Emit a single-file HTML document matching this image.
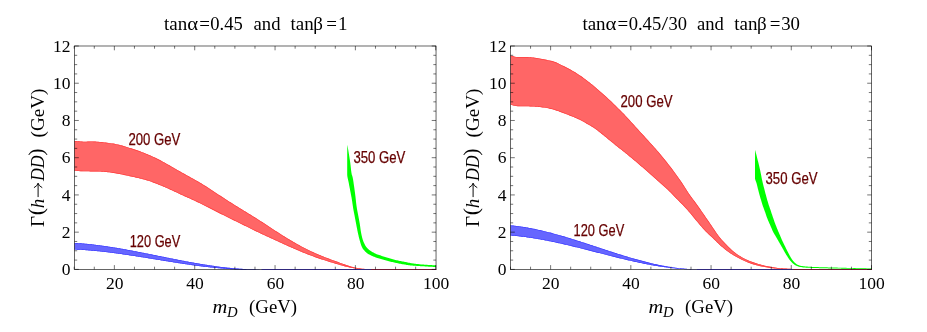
<!DOCTYPE html>
<html><head><meta charset="utf-8"><title>plot</title>
<style>
html,body{margin:0;padding:0;background:#fff;}
body{width:927px;height:332px;overflow:hidden;}
svg{display:block;will-change:transform;}
text{font-family:"Liberation Serif",serif;fill:#000;}
.tk{font-size:17.6px;}
.tt{font-size:19px;}
.it{font-size:19px;font-style:italic;}
.pp{font-size:22px;}
.sl{font-family:"Liberation Sans",sans-serif;font-size:15.8px;fill:#660000;stroke:#660000;stroke-width:0.25px;}
</style></head><body>
<svg width="927" height="332" viewBox="0 0 927 332">
<rect width="927" height="332" fill="#fff"/>
<clipPath id="c1"><path d="M74.40,242.90 L75.36,242.96 L76.32,243.02 L77.27,243.08 L78.23,243.14 L79.19,243.21 L80.15,243.28 L81.10,243.36 L82.06,243.44 L83.02,243.52 L83.98,243.60 L84.94,243.69 L85.89,243.78 L86.85,243.87 L87.81,243.96 L88.77,244.06 L89.72,244.16 L90.68,244.26 L91.64,244.36 L92.60,244.47 L93.56,244.58 L94.51,244.69 L95.47,244.81 L96.43,244.93 L97.39,245.04 L98.34,245.17 L99.30,245.29 L100.26,245.42 L101.22,245.54 L102.18,245.68 L103.13,245.81 L104.09,245.94 L105.05,246.08 L106.01,246.22 L106.96,246.36 L107.92,246.50 L108.88,246.65 L109.84,246.79 L110.80,246.94 L111.75,247.09 L112.71,247.24 L113.67,247.40 L114.63,247.55 L115.58,247.71 L116.54,247.87 L117.50,248.03 L118.46,248.19 L119.42,248.35 L120.37,248.52 L121.33,248.68 L122.29,248.85 L123.25,249.02 L124.21,249.19 L125.16,249.36 L126.12,249.53 L127.08,249.71 L128.04,249.88 L128.99,250.06 L129.95,250.24 L130.91,250.42 L131.87,250.59 L132.83,250.78 L133.78,250.96 L134.74,251.14 L135.70,251.32 L136.66,251.51 L137.61,251.69 L138.57,251.88 L139.53,252.06 L140.49,252.25 L141.45,252.44 L142.40,252.63 L143.36,252.82 L144.32,253.01 L145.28,253.20 L146.23,253.39 L147.19,253.58 L148.15,253.77 L149.11,253.96 L150.07,254.16 L151.02,254.35 L151.98,254.54 L152.94,254.74 L153.90,254.93 L154.85,255.12 L155.81,255.32 L156.77,255.51 L157.73,255.71 L158.69,255.90 L159.64,256.10 L160.60,256.29 L161.56,256.48 L162.52,256.68 L163.47,256.87 L164.43,257.07 L165.39,257.26 L166.35,257.45 L167.31,257.65 L168.26,257.84 L169.22,258.03 L170.18,258.22 L171.14,258.41 L172.09,258.60 L173.05,258.80 L174.01,258.98 L174.97,259.17 L175.93,259.36 L176.88,259.55 L177.84,259.74 L178.80,259.93 L179.76,260.11 L180.71,260.30 L181.67,260.48 L182.63,260.66 L183.59,260.85 L184.55,261.03 L185.50,261.21 L186.46,261.39 L187.42,261.57 L188.38,261.75 L189.33,261.92 L190.29,262.10 L191.25,262.27 L192.21,262.45 L193.17,262.62 L194.12,262.79 L195.08,262.96 L196.04,263.12 L197.00,263.29 L197.95,263.46 L198.91,263.62 L199.87,263.78 L200.83,263.94 L201.79,264.10 L202.74,264.26 L203.70,264.41 L204.66,264.57 L205.62,264.72 L206.57,264.87 L207.53,265.02 L208.49,265.17 L209.45,265.31 L210.41,265.45 L211.36,265.59 L212.32,265.73 L213.28,265.87 L214.24,266.01 L215.19,266.14 L216.15,266.27 L217.11,266.40 L218.07,266.52 L219.03,266.65 L219.98,266.77 L220.94,266.89 L221.90,267.01 L222.86,267.12 L223.82,267.24 L224.77,267.35 L225.73,267.45 L226.69,267.56 L227.65,267.66 L228.60,267.76 L229.56,267.86 L230.52,267.95 L231.48,268.05 L232.44,268.14 L233.39,268.22 L234.35,268.31 L235.31,268.39 L236.27,268.47 L237.22,268.54 L238.18,268.61 L239.14,268.68 L240.10,268.75 L241.06,268.81 L242.01,268.87 L242.97,268.93 L243.93,268.98 L244.89,269.03 L245.84,269.08 L246.80,269.13 L247.76,269.17 L248.72,269.20 L249.68,269.24 L250.63,269.27 L251.59,269.30 L252.55,269.32 L253.51,269.34 L254.46,269.36 L255.42,269.37 L256.38,269.38 L257.34,269.39 L258.30,269.39 L259.25,269.39 L260.21,269.38 L261.17,269.37 L262.13,269.36 L263.08,269.34 L264.04,269.32 L265.00,269.30 L265.00,269.40 L264.04,269.45 L263.08,269.49 L262.13,269.54 L261.17,269.58 L260.21,269.61 L259.25,269.64 L258.30,269.67 L257.34,269.70 L256.38,269.72 L255.42,269.74 L254.46,269.75 L253.51,269.76 L252.55,269.77 L251.59,269.78 L250.63,269.78 L249.68,269.78 L248.72,269.77 L247.76,269.77 L246.80,269.76 L245.84,269.74 L244.89,269.73 L243.93,269.71 L242.97,269.68 L242.01,269.66 L241.06,269.63 L240.10,269.60 L239.14,269.57 L238.18,269.53 L237.22,269.49 L236.27,269.45 L235.31,269.40 L234.35,269.36 L233.39,269.31 L232.44,269.25 L231.48,269.20 L230.52,269.14 L229.56,269.08 L228.60,269.02 L227.65,268.95 L226.69,268.89 L225.73,268.82 L224.77,268.74 L223.82,268.67 L222.86,268.59 L221.90,268.51 L220.94,268.43 L219.98,268.35 L219.03,268.26 L218.07,268.17 L217.11,268.09 L216.15,267.99 L215.19,267.90 L214.24,267.80 L213.28,267.71 L212.32,267.61 L211.36,267.51 L210.41,267.40 L209.45,267.30 L208.49,267.19 L207.53,267.08 L206.57,266.97 L205.62,266.86 L204.66,266.74 L203.70,266.63 L202.74,266.51 L201.79,266.39 L200.83,266.27 L199.87,266.15 L198.91,266.03 L197.95,265.90 L197.00,265.78 L196.04,265.65 L195.08,265.52 L194.12,265.39 L193.17,265.26 L192.21,265.13 L191.25,264.99 L190.29,264.86 L189.33,264.72 L188.38,264.59 L187.42,264.45 L186.46,264.31 L185.50,264.17 L184.55,264.03 L183.59,263.88 L182.63,263.74 L181.67,263.60 L180.71,263.45 L179.76,263.31 L178.80,263.16 L177.84,263.01 L176.88,262.86 L175.93,262.72 L174.97,262.57 L174.01,262.42 L173.05,262.27 L172.09,262.11 L171.14,261.96 L170.18,261.81 L169.22,261.66 L168.26,261.50 L167.31,261.35 L166.35,261.20 L165.39,261.04 L164.43,260.89 L163.47,260.73 L162.52,260.58 L161.56,260.42 L160.60,260.27 L159.64,260.11 L158.69,259.95 L157.73,259.80 L156.77,259.64 L155.81,259.49 L154.85,259.33 L153.90,259.17 L152.94,259.02 L151.98,258.86 L151.02,258.71 L150.07,258.55 L149.11,258.39 L148.15,258.24 L147.19,258.08 L146.23,257.93 L145.28,257.78 L144.32,257.62 L143.36,257.47 L142.40,257.31 L141.45,257.16 L140.49,257.01 L139.53,256.86 L138.57,256.71 L137.61,256.56 L136.66,256.41 L135.70,256.26 L134.74,256.11 L133.78,255.96 L132.83,255.81 L131.87,255.67 L130.91,255.52 L129.95,255.38 L128.99,255.23 L128.04,255.09 L127.08,254.95 L126.12,254.81 L125.16,254.67 L124.21,254.53 L123.25,254.39 L122.29,254.25 L121.33,254.12 L120.37,253.98 L119.42,253.85 L118.46,253.72 L117.50,253.58 L116.54,253.45 L115.58,253.33 L114.63,253.20 L113.67,253.07 L112.71,252.95 L111.75,252.83 L110.80,252.70 L109.84,252.58 L108.88,252.47 L107.92,252.35 L106.96,252.23 L106.01,252.12 L105.05,252.01 L104.09,251.90 L103.13,251.79 L102.18,251.68 L101.22,251.58 L100.26,251.48 L99.30,251.37 L98.34,251.27 L97.39,251.18 L96.43,251.08 L95.47,250.99 L94.51,250.90 L93.56,250.81 L92.60,250.72 L91.64,250.63 L90.68,250.55 L89.72,250.47 L88.77,250.39 L87.81,250.32 L86.85,250.24 L85.89,250.17 L84.94,250.10 L83.98,250.03 L83.02,249.97 L82.06,249.91 L81.10,249.85 L80.15,249.79 L79.19,249.73 L78.23,249.68 L77.27,249.63 L76.32,249.59 L75.36,249.54 L74.40,249.50Z"/></clipPath>
<path d="M74.40,242.90 L75.36,242.96 L76.32,243.02 L77.27,243.08 L78.23,243.14 L79.19,243.21 L80.15,243.28 L81.10,243.36 L82.06,243.44 L83.02,243.52 L83.98,243.60 L84.94,243.69 L85.89,243.78 L86.85,243.87 L87.81,243.96 L88.77,244.06 L89.72,244.16 L90.68,244.26 L91.64,244.36 L92.60,244.47 L93.56,244.58 L94.51,244.69 L95.47,244.81 L96.43,244.93 L97.39,245.04 L98.34,245.17 L99.30,245.29 L100.26,245.42 L101.22,245.54 L102.18,245.68 L103.13,245.81 L104.09,245.94 L105.05,246.08 L106.01,246.22 L106.96,246.36 L107.92,246.50 L108.88,246.65 L109.84,246.79 L110.80,246.94 L111.75,247.09 L112.71,247.24 L113.67,247.40 L114.63,247.55 L115.58,247.71 L116.54,247.87 L117.50,248.03 L118.46,248.19 L119.42,248.35 L120.37,248.52 L121.33,248.68 L122.29,248.85 L123.25,249.02 L124.21,249.19 L125.16,249.36 L126.12,249.53 L127.08,249.71 L128.04,249.88 L128.99,250.06 L129.95,250.24 L130.91,250.42 L131.87,250.59 L132.83,250.78 L133.78,250.96 L134.74,251.14 L135.70,251.32 L136.66,251.51 L137.61,251.69 L138.57,251.88 L139.53,252.06 L140.49,252.25 L141.45,252.44 L142.40,252.63 L143.36,252.82 L144.32,253.01 L145.28,253.20 L146.23,253.39 L147.19,253.58 L148.15,253.77 L149.11,253.96 L150.07,254.16 L151.02,254.35 L151.98,254.54 L152.94,254.74 L153.90,254.93 L154.85,255.12 L155.81,255.32 L156.77,255.51 L157.73,255.71 L158.69,255.90 L159.64,256.10 L160.60,256.29 L161.56,256.48 L162.52,256.68 L163.47,256.87 L164.43,257.07 L165.39,257.26 L166.35,257.45 L167.31,257.65 L168.26,257.84 L169.22,258.03 L170.18,258.22 L171.14,258.41 L172.09,258.60 L173.05,258.80 L174.01,258.98 L174.97,259.17 L175.93,259.36 L176.88,259.55 L177.84,259.74 L178.80,259.93 L179.76,260.11 L180.71,260.30 L181.67,260.48 L182.63,260.66 L183.59,260.85 L184.55,261.03 L185.50,261.21 L186.46,261.39 L187.42,261.57 L188.38,261.75 L189.33,261.92 L190.29,262.10 L191.25,262.27 L192.21,262.45 L193.17,262.62 L194.12,262.79 L195.08,262.96 L196.04,263.12 L197.00,263.29 L197.95,263.46 L198.91,263.62 L199.87,263.78 L200.83,263.94 L201.79,264.10 L202.74,264.26 L203.70,264.41 L204.66,264.57 L205.62,264.72 L206.57,264.87 L207.53,265.02 L208.49,265.17 L209.45,265.31 L210.41,265.45 L211.36,265.59 L212.32,265.73 L213.28,265.87 L214.24,266.01 L215.19,266.14 L216.15,266.27 L217.11,266.40 L218.07,266.52 L219.03,266.65 L219.98,266.77 L220.94,266.89 L221.90,267.01 L222.86,267.12 L223.82,267.24 L224.77,267.35 L225.73,267.45 L226.69,267.56 L227.65,267.66 L228.60,267.76 L229.56,267.86 L230.52,267.95 L231.48,268.05 L232.44,268.14 L233.39,268.22 L234.35,268.31 L235.31,268.39 L236.27,268.47 L237.22,268.54 L238.18,268.61 L239.14,268.68 L240.10,268.75 L241.06,268.81 L242.01,268.87 L242.97,268.93 L243.93,268.98 L244.89,269.03 L245.84,269.08 L246.80,269.13 L247.76,269.17 L248.72,269.20 L249.68,269.24 L250.63,269.27 L251.59,269.30 L252.55,269.32 L253.51,269.34 L254.46,269.36 L255.42,269.37 L256.38,269.38 L257.34,269.39 L258.30,269.39 L259.25,269.39 L260.21,269.38 L261.17,269.37 L262.13,269.36 L263.08,269.34 L264.04,269.32 L265.00,269.30 L265.00,269.40 L264.04,269.45 L263.08,269.49 L262.13,269.54 L261.17,269.58 L260.21,269.61 L259.25,269.64 L258.30,269.67 L257.34,269.70 L256.38,269.72 L255.42,269.74 L254.46,269.75 L253.51,269.76 L252.55,269.77 L251.59,269.78 L250.63,269.78 L249.68,269.78 L248.72,269.77 L247.76,269.77 L246.80,269.76 L245.84,269.74 L244.89,269.73 L243.93,269.71 L242.97,269.68 L242.01,269.66 L241.06,269.63 L240.10,269.60 L239.14,269.57 L238.18,269.53 L237.22,269.49 L236.27,269.45 L235.31,269.40 L234.35,269.36 L233.39,269.31 L232.44,269.25 L231.48,269.20 L230.52,269.14 L229.56,269.08 L228.60,269.02 L227.65,268.95 L226.69,268.89 L225.73,268.82 L224.77,268.74 L223.82,268.67 L222.86,268.59 L221.90,268.51 L220.94,268.43 L219.98,268.35 L219.03,268.26 L218.07,268.17 L217.11,268.09 L216.15,267.99 L215.19,267.90 L214.24,267.80 L213.28,267.71 L212.32,267.61 L211.36,267.51 L210.41,267.40 L209.45,267.30 L208.49,267.19 L207.53,267.08 L206.57,266.97 L205.62,266.86 L204.66,266.74 L203.70,266.63 L202.74,266.51 L201.79,266.39 L200.83,266.27 L199.87,266.15 L198.91,266.03 L197.95,265.90 L197.00,265.78 L196.04,265.65 L195.08,265.52 L194.12,265.39 L193.17,265.26 L192.21,265.13 L191.25,264.99 L190.29,264.86 L189.33,264.72 L188.38,264.59 L187.42,264.45 L186.46,264.31 L185.50,264.17 L184.55,264.03 L183.59,263.88 L182.63,263.74 L181.67,263.60 L180.71,263.45 L179.76,263.31 L178.80,263.16 L177.84,263.01 L176.88,262.86 L175.93,262.72 L174.97,262.57 L174.01,262.42 L173.05,262.27 L172.09,262.11 L171.14,261.96 L170.18,261.81 L169.22,261.66 L168.26,261.50 L167.31,261.35 L166.35,261.20 L165.39,261.04 L164.43,260.89 L163.47,260.73 L162.52,260.58 L161.56,260.42 L160.60,260.27 L159.64,260.11 L158.69,259.95 L157.73,259.80 L156.77,259.64 L155.81,259.49 L154.85,259.33 L153.90,259.17 L152.94,259.02 L151.98,258.86 L151.02,258.71 L150.07,258.55 L149.11,258.39 L148.15,258.24 L147.19,258.08 L146.23,257.93 L145.28,257.78 L144.32,257.62 L143.36,257.47 L142.40,257.31 L141.45,257.16 L140.49,257.01 L139.53,256.86 L138.57,256.71 L137.61,256.56 L136.66,256.41 L135.70,256.26 L134.74,256.11 L133.78,255.96 L132.83,255.81 L131.87,255.67 L130.91,255.52 L129.95,255.38 L128.99,255.23 L128.04,255.09 L127.08,254.95 L126.12,254.81 L125.16,254.67 L124.21,254.53 L123.25,254.39 L122.29,254.25 L121.33,254.12 L120.37,253.98 L119.42,253.85 L118.46,253.72 L117.50,253.58 L116.54,253.45 L115.58,253.33 L114.63,253.20 L113.67,253.07 L112.71,252.95 L111.75,252.83 L110.80,252.70 L109.84,252.58 L108.88,252.47 L107.92,252.35 L106.96,252.23 L106.01,252.12 L105.05,252.01 L104.09,251.90 L103.13,251.79 L102.18,251.68 L101.22,251.58 L100.26,251.48 L99.30,251.37 L98.34,251.27 L97.39,251.18 L96.43,251.08 L95.47,250.99 L94.51,250.90 L93.56,250.81 L92.60,250.72 L91.64,250.63 L90.68,250.55 L89.72,250.47 L88.77,250.39 L87.81,250.32 L86.85,250.24 L85.89,250.17 L84.94,250.10 L83.98,250.03 L83.02,249.97 L82.06,249.91 L81.10,249.85 L80.15,249.79 L79.19,249.73 L78.23,249.68 L77.27,249.63 L76.32,249.59 L75.36,249.54 L74.40,249.50Z" fill="#6666ff"/>
<path d="M74.40,242.90 L75.36,242.96 L76.32,243.02 L77.27,243.08 L78.23,243.14 L79.19,243.21 L80.15,243.28 L81.10,243.36 L82.06,243.44 L83.02,243.52 L83.98,243.60 L84.94,243.69 L85.89,243.78 L86.85,243.87 L87.81,243.96 L88.77,244.06 L89.72,244.16 L90.68,244.26 L91.64,244.36 L92.60,244.47 L93.56,244.58 L94.51,244.69 L95.47,244.81 L96.43,244.93 L97.39,245.04 L98.34,245.17 L99.30,245.29 L100.26,245.42 L101.22,245.54 L102.18,245.68 L103.13,245.81 L104.09,245.94 L105.05,246.08 L106.01,246.22 L106.96,246.36 L107.92,246.50 L108.88,246.65 L109.84,246.79 L110.80,246.94 L111.75,247.09 L112.71,247.24 L113.67,247.40 L114.63,247.55 L115.58,247.71 L116.54,247.87 L117.50,248.03 L118.46,248.19 L119.42,248.35 L120.37,248.52 L121.33,248.68 L122.29,248.85 L123.25,249.02 L124.21,249.19 L125.16,249.36 L126.12,249.53 L127.08,249.71 L128.04,249.88 L128.99,250.06 L129.95,250.24 L130.91,250.42 L131.87,250.59 L132.83,250.78 L133.78,250.96 L134.74,251.14 L135.70,251.32 L136.66,251.51 L137.61,251.69 L138.57,251.88 L139.53,252.06 L140.49,252.25 L141.45,252.44 L142.40,252.63 L143.36,252.82 L144.32,253.01 L145.28,253.20 L146.23,253.39 L147.19,253.58 L148.15,253.77 L149.11,253.96 L150.07,254.16 L151.02,254.35 L151.98,254.54 L152.94,254.74 L153.90,254.93 L154.85,255.12 L155.81,255.32 L156.77,255.51 L157.73,255.71 L158.69,255.90 L159.64,256.10 L160.60,256.29 L161.56,256.48 L162.52,256.68 L163.47,256.87 L164.43,257.07 L165.39,257.26 L166.35,257.45 L167.31,257.65 L168.26,257.84 L169.22,258.03 L170.18,258.22 L171.14,258.41 L172.09,258.60 L173.05,258.80 L174.01,258.98 L174.97,259.17 L175.93,259.36 L176.88,259.55 L177.84,259.74 L178.80,259.93 L179.76,260.11 L180.71,260.30 L181.67,260.48 L182.63,260.66 L183.59,260.85 L184.55,261.03 L185.50,261.21 L186.46,261.39 L187.42,261.57 L188.38,261.75 L189.33,261.92 L190.29,262.10 L191.25,262.27 L192.21,262.45 L193.17,262.62 L194.12,262.79 L195.08,262.96 L196.04,263.12 L197.00,263.29 L197.95,263.46 L198.91,263.62 L199.87,263.78 L200.83,263.94 L201.79,264.10 L202.74,264.26 L203.70,264.41 L204.66,264.57 L205.62,264.72 L206.57,264.87 L207.53,265.02 L208.49,265.17 L209.45,265.31 L210.41,265.45 L211.36,265.59 L212.32,265.73 L213.28,265.87 L214.24,266.01 L215.19,266.14 L216.15,266.27 L217.11,266.40 L218.07,266.52 L219.03,266.65 L219.98,266.77 L220.94,266.89 L221.90,267.01 L222.86,267.12 L223.82,267.24 L224.77,267.35 L225.73,267.45 L226.69,267.56 L227.65,267.66 L228.60,267.76 L229.56,267.86 L230.52,267.95 L231.48,268.05 L232.44,268.14 L233.39,268.22 L234.35,268.31 L235.31,268.39 L236.27,268.47 L237.22,268.54 L238.18,268.61 L239.14,268.68 L240.10,268.75 L241.06,268.81 L242.01,268.87 L242.97,268.93 L243.93,268.98 L244.89,269.03 L245.84,269.08 L246.80,269.13 L247.76,269.17 L248.72,269.20 L249.68,269.24 L250.63,269.27 L251.59,269.30 L252.55,269.32 L253.51,269.34 L254.46,269.36 L255.42,269.37 L256.38,269.38 L257.34,269.39 L258.30,269.39 L259.25,269.39 L260.21,269.38 L261.17,269.37 L262.13,269.36 L263.08,269.34 L264.04,269.32 L265.00,269.30 M74.40,249.50 L75.36,249.54 L76.32,249.59 L77.27,249.63 L78.23,249.68 L79.19,249.73 L80.15,249.79 L81.10,249.85 L82.06,249.91 L83.02,249.97 L83.98,250.03 L84.94,250.10 L85.89,250.17 L86.85,250.24 L87.81,250.32 L88.77,250.39 L89.72,250.47 L90.68,250.55 L91.64,250.63 L92.60,250.72 L93.56,250.81 L94.51,250.90 L95.47,250.99 L96.43,251.08 L97.39,251.18 L98.34,251.27 L99.30,251.37 L100.26,251.48 L101.22,251.58 L102.18,251.68 L103.13,251.79 L104.09,251.90 L105.05,252.01 L106.01,252.12 L106.96,252.23 L107.92,252.35 L108.88,252.47 L109.84,252.58 L110.80,252.70 L111.75,252.83 L112.71,252.95 L113.67,253.07 L114.63,253.20 L115.58,253.33 L116.54,253.45 L117.50,253.58 L118.46,253.72 L119.42,253.85 L120.37,253.98 L121.33,254.12 L122.29,254.25 L123.25,254.39 L124.21,254.53 L125.16,254.67 L126.12,254.81 L127.08,254.95 L128.04,255.09 L128.99,255.23 L129.95,255.38 L130.91,255.52 L131.87,255.67 L132.83,255.81 L133.78,255.96 L134.74,256.11 L135.70,256.26 L136.66,256.41 L137.61,256.56 L138.57,256.71 L139.53,256.86 L140.49,257.01 L141.45,257.16 L142.40,257.31 L143.36,257.47 L144.32,257.62 L145.28,257.78 L146.23,257.93 L147.19,258.08 L148.15,258.24 L149.11,258.39 L150.07,258.55 L151.02,258.71 L151.98,258.86 L152.94,259.02 L153.90,259.17 L154.85,259.33 L155.81,259.49 L156.77,259.64 L157.73,259.80 L158.69,259.95 L159.64,260.11 L160.60,260.27 L161.56,260.42 L162.52,260.58 L163.47,260.73 L164.43,260.89 L165.39,261.04 L166.35,261.20 L167.31,261.35 L168.26,261.50 L169.22,261.66 L170.18,261.81 L171.14,261.96 L172.09,262.11 L173.05,262.27 L174.01,262.42 L174.97,262.57 L175.93,262.72 L176.88,262.86 L177.84,263.01 L178.80,263.16 L179.76,263.31 L180.71,263.45 L181.67,263.60 L182.63,263.74 L183.59,263.88 L184.55,264.03 L185.50,264.17 L186.46,264.31 L187.42,264.45 L188.38,264.59 L189.33,264.72 L190.29,264.86 L191.25,264.99 L192.21,265.13 L193.17,265.26 L194.12,265.39 L195.08,265.52 L196.04,265.65 L197.00,265.78 L197.95,265.90 L198.91,266.03 L199.87,266.15 L200.83,266.27 L201.79,266.39 L202.74,266.51 L203.70,266.63 L204.66,266.74 L205.62,266.86 L206.57,266.97 L207.53,267.08 L208.49,267.19 L209.45,267.30 L210.41,267.40 L211.36,267.51 L212.32,267.61 L213.28,267.71 L214.24,267.80 L215.19,267.90 L216.15,267.99 L217.11,268.09 L218.07,268.17 L219.03,268.26 L219.98,268.35 L220.94,268.43 L221.90,268.51 L222.86,268.59 L223.82,268.67 L224.77,268.74 L225.73,268.82 L226.69,268.89 L227.65,268.95 L228.60,269.02 L229.56,269.08 L230.52,269.14 L231.48,269.20 L232.44,269.25 L233.39,269.31 L234.35,269.36 L235.31,269.40 L236.27,269.45 L237.22,269.49 L238.18,269.53 L239.14,269.57 L240.10,269.60 L241.06,269.63 L242.01,269.66 L242.97,269.68 L243.93,269.71 L244.89,269.73 L245.84,269.74 L246.80,269.76 L247.76,269.77 L248.72,269.77 L249.68,269.78 L250.63,269.78 L251.59,269.78 L252.55,269.77 L253.51,269.76 L254.46,269.75 L255.42,269.74 L256.38,269.72 L257.34,269.70 L258.30,269.67 L259.25,269.64 L260.21,269.61 L261.17,269.58 L262.13,269.54 L263.08,269.49 L264.04,269.45 L265.00,269.40" fill="none" stroke="#4040ff" stroke-width="1.30" stroke-linejoin="round" clip-path="url(#c1)"/>
<clipPath id="c2"><path d="M74.40,140.90 L75.89,141.04 L77.38,141.18 L78.87,141.33 L80.36,141.46 L81.85,141.57 L83.34,141.65 L84.83,141.68 L86.32,141.65 L87.81,141.58 L89.30,141.50 L90.79,141.45 L92.29,141.44 L93.78,141.48 L95.27,141.56 L96.76,141.66 L98.25,141.79 L99.74,141.94 L101.23,142.10 L102.72,142.26 L104.21,142.43 L105.70,142.60 L107.19,142.78 L108.68,142.97 L110.17,143.17 L111.66,143.39 L113.15,143.62 L114.64,143.87 L116.13,144.14 L117.62,144.44 L119.11,144.79 L120.60,145.18 L122.09,145.60 L123.58,146.05 L125.08,146.50 L126.57,146.95 L128.06,147.41 L129.55,147.88 L131.04,148.35 L132.53,148.82 L134.02,149.31 L135.51,149.81 L137.00,150.32 L138.49,150.84 L139.98,151.37 L141.47,151.92 L142.96,152.48 L144.45,153.06 L145.94,153.66 L147.43,154.28 L148.92,154.91 L150.41,155.56 L151.90,156.23 L153.39,156.91 L154.88,157.62 L156.37,158.34 L157.87,159.08 L159.36,159.84 L160.85,160.62 L162.34,161.41 L163.83,162.22 L165.32,163.05 L166.81,163.88 L168.30,164.73 L169.79,165.58 L171.28,166.44 L172.77,167.31 L174.26,168.17 L175.75,169.04 L177.24,169.90 L178.73,170.76 L180.22,171.62 L181.71,172.46 L183.20,173.30 L184.69,174.12 L186.18,174.95 L187.67,175.76 L189.16,176.58 L190.66,177.40 L192.15,178.22 L193.64,179.05 L195.13,179.89 L196.62,180.73 L198.11,181.59 L199.60,182.47 L201.09,183.36 L202.58,184.26 L204.07,185.18 L205.56,186.12 L207.05,187.06 L208.54,188.02 L210.03,188.98 L211.52,189.96 L213.01,190.93 L214.50,191.92 L215.99,192.90 L217.48,193.89 L218.97,194.88 L220.46,195.86 L221.95,196.85 L223.45,197.83 L224.94,198.80 L226.43,199.77 L227.92,200.72 L229.41,201.68 L230.90,202.62 L232.39,203.56 L233.88,204.49 L235.37,205.42 L236.86,206.35 L238.35,207.27 L239.84,208.19 L241.33,209.11 L242.82,210.02 L244.31,210.94 L245.80,211.85 L247.29,212.77 L248.78,213.68 L250.27,214.60 L251.76,215.52 L253.25,216.44 L254.74,217.37 L256.24,218.31 L257.73,219.25 L259.22,220.19 L260.71,221.14 L262.20,222.10 L263.69,223.07 L265.18,224.04 L266.67,225.01 L268.16,225.99 L269.65,226.97 L271.14,227.95 L272.63,228.93 L274.12,229.90 L275.61,230.88 L277.10,231.84 L278.59,232.81 L280.08,233.77 L281.57,234.72 L283.06,235.66 L284.55,236.59 L286.04,237.52 L287.53,238.43 L289.03,239.34 L290.52,240.23 L292.01,241.11 L293.50,241.99 L294.99,242.85 L296.48,243.69 L297.97,244.53 L299.46,245.35 L300.95,246.16 L302.44,246.95 L303.93,247.73 L305.42,248.49 L306.91,249.24 L308.40,249.97 L309.89,250.69 L311.38,251.39 L312.87,252.08 L314.36,252.76 L315.85,253.42 L317.34,254.07 L318.83,254.70 L320.32,255.33 L321.82,255.94 L323.31,256.54 L324.80,257.13 L326.29,257.71 L327.78,258.28 L329.27,258.84 L330.76,259.40 L332.25,259.94 L333.74,260.48 L335.23,261.02 L336.72,261.56 L338.21,262.11 L339.70,262.66 L341.19,263.21 L342.68,263.75 L344.17,264.28 L345.66,264.80 L347.15,265.31 L348.64,265.79 L350.13,266.25 L351.62,266.68 L353.11,267.08 L354.61,267.45 L356.10,267.78 L357.59,268.07 L359.08,268.32 L360.57,268.52 L362.06,268.68 L363.55,268.80 L365.04,268.91 L366.53,269.00 L368.02,269.09 L369.51,269.19 L371.00,269.30 L364.00,269.30 L362.54,269.22 L361.09,269.12 L359.63,268.99 L358.18,268.84 L356.72,268.67 L355.27,268.48 L353.81,268.26 L352.36,268.02 L350.90,267.74 L349.45,267.44 L347.99,267.12 L346.54,266.77 L345.08,266.39 L343.63,266.00 L342.17,265.59 L340.72,265.18 L339.26,264.75 L337.81,264.32 L336.35,263.88 L334.89,263.45 L333.44,263.01 L331.98,262.58 L330.53,262.14 L329.07,261.69 L327.62,261.24 L326.16,260.79 L324.71,260.33 L323.25,259.87 L321.80,259.40 L320.34,258.91 L318.89,258.42 L317.43,257.92 L315.98,257.41 L314.52,256.89 L313.07,256.36 L311.61,255.82 L310.15,255.27 L308.70,254.71 L307.24,254.15 L305.79,253.57 L304.33,252.99 L302.88,252.40 L301.42,251.80 L299.97,251.20 L298.51,250.58 L297.06,249.97 L295.60,249.34 L294.15,248.72 L292.69,248.08 L291.24,247.44 L289.78,246.80 L288.33,246.15 L286.87,245.50 L285.42,244.85 L283.96,244.19 L282.50,243.53 L281.05,242.86 L279.59,242.20 L278.14,241.53 L276.68,240.86 L275.23,240.19 L273.77,239.51 L272.32,238.84 L270.86,238.17 L269.41,237.50 L267.95,236.82 L266.50,236.15 L265.04,235.48 L263.59,234.80 L262.13,234.13 L260.68,233.45 L259.22,232.77 L257.76,232.08 L256.31,231.38 L254.85,230.68 L253.40,229.97 L251.94,229.26 L250.49,228.54 L249.03,227.82 L247.58,227.10 L246.12,226.37 L244.67,225.65 L243.21,224.93 L241.76,224.21 L240.30,223.49 L238.85,222.78 L237.39,222.06 L235.94,221.35 L234.48,220.64 L233.03,219.93 L231.57,219.22 L230.11,218.50 L228.66,217.78 L227.20,217.06 L225.75,216.34 L224.29,215.61 L222.84,214.87 L221.38,214.14 L219.93,213.40 L218.47,212.65 L217.02,211.91 L215.56,211.17 L214.11,210.42 L212.65,209.68 L211.20,208.93 L209.74,208.19 L208.29,207.45 L206.83,206.71 L205.37,205.98 L203.92,205.25 L202.46,204.52 L201.01,203.81 L199.55,203.09 L198.10,202.39 L196.64,201.69 L195.19,201.00 L193.73,200.32 L192.28,199.65 L190.82,198.98 L189.37,198.33 L187.91,197.68 L186.46,197.03 L185.00,196.38 L183.55,195.73 L182.09,195.07 L180.64,194.41 L179.18,193.73 L177.72,193.05 L176.27,192.37 L174.81,191.69 L173.36,191.01 L171.90,190.33 L170.45,189.67 L168.99,189.01 L167.54,188.36 L166.08,187.72 L164.63,187.08 L163.17,186.46 L161.72,185.85 L160.26,185.24 L158.81,184.64 L157.35,184.06 L155.90,183.48 L154.44,182.93 L152.98,182.38 L151.53,181.86 L150.07,181.35 L148.62,180.87 L147.16,180.41 L145.71,179.97 L144.25,179.55 L142.80,179.15 L141.34,178.77 L139.89,178.41 L138.43,178.06 L136.98,177.72 L135.52,177.39 L134.07,177.07 L132.61,176.76 L131.16,176.45 L129.70,176.14 L128.25,175.83 L126.79,175.52 L125.33,175.21 L123.88,174.90 L122.42,174.60 L120.97,174.30 L119.51,174.01 L118.06,173.73 L116.60,173.45 L115.15,173.20 L113.69,172.95 L112.24,172.72 L110.78,172.52 L109.33,172.33 L107.87,172.16 L106.42,172.01 L104.96,171.89 L103.51,171.78 L102.05,171.69 L100.59,171.61 L99.14,171.55 L97.68,171.50 L96.23,171.46 L94.77,171.43 L93.32,171.41 L91.86,171.39 L90.41,171.38 L88.95,171.37 L87.50,171.36 L86.04,171.35 L84.59,171.33 L83.13,171.30 L81.68,171.26 L80.22,171.20 L78.77,171.12 L77.31,171.01 L75.86,170.87 L74.40,170.70Z"/></clipPath>
<path d="M74.40,140.90 L75.89,141.04 L77.38,141.18 L78.87,141.33 L80.36,141.46 L81.85,141.57 L83.34,141.65 L84.83,141.68 L86.32,141.65 L87.81,141.58 L89.30,141.50 L90.79,141.45 L92.29,141.44 L93.78,141.48 L95.27,141.56 L96.76,141.66 L98.25,141.79 L99.74,141.94 L101.23,142.10 L102.72,142.26 L104.21,142.43 L105.70,142.60 L107.19,142.78 L108.68,142.97 L110.17,143.17 L111.66,143.39 L113.15,143.62 L114.64,143.87 L116.13,144.14 L117.62,144.44 L119.11,144.79 L120.60,145.18 L122.09,145.60 L123.58,146.05 L125.08,146.50 L126.57,146.95 L128.06,147.41 L129.55,147.88 L131.04,148.35 L132.53,148.82 L134.02,149.31 L135.51,149.81 L137.00,150.32 L138.49,150.84 L139.98,151.37 L141.47,151.92 L142.96,152.48 L144.45,153.06 L145.94,153.66 L147.43,154.28 L148.92,154.91 L150.41,155.56 L151.90,156.23 L153.39,156.91 L154.88,157.62 L156.37,158.34 L157.87,159.08 L159.36,159.84 L160.85,160.62 L162.34,161.41 L163.83,162.22 L165.32,163.05 L166.81,163.88 L168.30,164.73 L169.79,165.58 L171.28,166.44 L172.77,167.31 L174.26,168.17 L175.75,169.04 L177.24,169.90 L178.73,170.76 L180.22,171.62 L181.71,172.46 L183.20,173.30 L184.69,174.12 L186.18,174.95 L187.67,175.76 L189.16,176.58 L190.66,177.40 L192.15,178.22 L193.64,179.05 L195.13,179.89 L196.62,180.73 L198.11,181.59 L199.60,182.47 L201.09,183.36 L202.58,184.26 L204.07,185.18 L205.56,186.12 L207.05,187.06 L208.54,188.02 L210.03,188.98 L211.52,189.96 L213.01,190.93 L214.50,191.92 L215.99,192.90 L217.48,193.89 L218.97,194.88 L220.46,195.86 L221.95,196.85 L223.45,197.83 L224.94,198.80 L226.43,199.77 L227.92,200.72 L229.41,201.68 L230.90,202.62 L232.39,203.56 L233.88,204.49 L235.37,205.42 L236.86,206.35 L238.35,207.27 L239.84,208.19 L241.33,209.11 L242.82,210.02 L244.31,210.94 L245.80,211.85 L247.29,212.77 L248.78,213.68 L250.27,214.60 L251.76,215.52 L253.25,216.44 L254.74,217.37 L256.24,218.31 L257.73,219.25 L259.22,220.19 L260.71,221.14 L262.20,222.10 L263.69,223.07 L265.18,224.04 L266.67,225.01 L268.16,225.99 L269.65,226.97 L271.14,227.95 L272.63,228.93 L274.12,229.90 L275.61,230.88 L277.10,231.84 L278.59,232.81 L280.08,233.77 L281.57,234.72 L283.06,235.66 L284.55,236.59 L286.04,237.52 L287.53,238.43 L289.03,239.34 L290.52,240.23 L292.01,241.11 L293.50,241.99 L294.99,242.85 L296.48,243.69 L297.97,244.53 L299.46,245.35 L300.95,246.16 L302.44,246.95 L303.93,247.73 L305.42,248.49 L306.91,249.24 L308.40,249.97 L309.89,250.69 L311.38,251.39 L312.87,252.08 L314.36,252.76 L315.85,253.42 L317.34,254.07 L318.83,254.70 L320.32,255.33 L321.82,255.94 L323.31,256.54 L324.80,257.13 L326.29,257.71 L327.78,258.28 L329.27,258.84 L330.76,259.40 L332.25,259.94 L333.74,260.48 L335.23,261.02 L336.72,261.56 L338.21,262.11 L339.70,262.66 L341.19,263.21 L342.68,263.75 L344.17,264.28 L345.66,264.80 L347.15,265.31 L348.64,265.79 L350.13,266.25 L351.62,266.68 L353.11,267.08 L354.61,267.45 L356.10,267.78 L357.59,268.07 L359.08,268.32 L360.57,268.52 L362.06,268.68 L363.55,268.80 L365.04,268.91 L366.53,269.00 L368.02,269.09 L369.51,269.19 L371.00,269.30 L364.00,269.30 L362.54,269.22 L361.09,269.12 L359.63,268.99 L358.18,268.84 L356.72,268.67 L355.27,268.48 L353.81,268.26 L352.36,268.02 L350.90,267.74 L349.45,267.44 L347.99,267.12 L346.54,266.77 L345.08,266.39 L343.63,266.00 L342.17,265.59 L340.72,265.18 L339.26,264.75 L337.81,264.32 L336.35,263.88 L334.89,263.45 L333.44,263.01 L331.98,262.58 L330.53,262.14 L329.07,261.69 L327.62,261.24 L326.16,260.79 L324.71,260.33 L323.25,259.87 L321.80,259.40 L320.34,258.91 L318.89,258.42 L317.43,257.92 L315.98,257.41 L314.52,256.89 L313.07,256.36 L311.61,255.82 L310.15,255.27 L308.70,254.71 L307.24,254.15 L305.79,253.57 L304.33,252.99 L302.88,252.40 L301.42,251.80 L299.97,251.20 L298.51,250.58 L297.06,249.97 L295.60,249.34 L294.15,248.72 L292.69,248.08 L291.24,247.44 L289.78,246.80 L288.33,246.15 L286.87,245.50 L285.42,244.85 L283.96,244.19 L282.50,243.53 L281.05,242.86 L279.59,242.20 L278.14,241.53 L276.68,240.86 L275.23,240.19 L273.77,239.51 L272.32,238.84 L270.86,238.17 L269.41,237.50 L267.95,236.82 L266.50,236.15 L265.04,235.48 L263.59,234.80 L262.13,234.13 L260.68,233.45 L259.22,232.77 L257.76,232.08 L256.31,231.38 L254.85,230.68 L253.40,229.97 L251.94,229.26 L250.49,228.54 L249.03,227.82 L247.58,227.10 L246.12,226.37 L244.67,225.65 L243.21,224.93 L241.76,224.21 L240.30,223.49 L238.85,222.78 L237.39,222.06 L235.94,221.35 L234.48,220.64 L233.03,219.93 L231.57,219.22 L230.11,218.50 L228.66,217.78 L227.20,217.06 L225.75,216.34 L224.29,215.61 L222.84,214.87 L221.38,214.14 L219.93,213.40 L218.47,212.65 L217.02,211.91 L215.56,211.17 L214.11,210.42 L212.65,209.68 L211.20,208.93 L209.74,208.19 L208.29,207.45 L206.83,206.71 L205.37,205.98 L203.92,205.25 L202.46,204.52 L201.01,203.81 L199.55,203.09 L198.10,202.39 L196.64,201.69 L195.19,201.00 L193.73,200.32 L192.28,199.65 L190.82,198.98 L189.37,198.33 L187.91,197.68 L186.46,197.03 L185.00,196.38 L183.55,195.73 L182.09,195.07 L180.64,194.41 L179.18,193.73 L177.72,193.05 L176.27,192.37 L174.81,191.69 L173.36,191.01 L171.90,190.33 L170.45,189.67 L168.99,189.01 L167.54,188.36 L166.08,187.72 L164.63,187.08 L163.17,186.46 L161.72,185.85 L160.26,185.24 L158.81,184.64 L157.35,184.06 L155.90,183.48 L154.44,182.93 L152.98,182.38 L151.53,181.86 L150.07,181.35 L148.62,180.87 L147.16,180.41 L145.71,179.97 L144.25,179.55 L142.80,179.15 L141.34,178.77 L139.89,178.41 L138.43,178.06 L136.98,177.72 L135.52,177.39 L134.07,177.07 L132.61,176.76 L131.16,176.45 L129.70,176.14 L128.25,175.83 L126.79,175.52 L125.33,175.21 L123.88,174.90 L122.42,174.60 L120.97,174.30 L119.51,174.01 L118.06,173.73 L116.60,173.45 L115.15,173.20 L113.69,172.95 L112.24,172.72 L110.78,172.52 L109.33,172.33 L107.87,172.16 L106.42,172.01 L104.96,171.89 L103.51,171.78 L102.05,171.69 L100.59,171.61 L99.14,171.55 L97.68,171.50 L96.23,171.46 L94.77,171.43 L93.32,171.41 L91.86,171.39 L90.41,171.38 L88.95,171.37 L87.50,171.36 L86.04,171.35 L84.59,171.33 L83.13,171.30 L81.68,171.26 L80.22,171.20 L78.77,171.12 L77.31,171.01 L75.86,170.87 L74.40,170.70Z" fill="#ff6666"/>
<path d="M74.40,140.90 L75.89,141.04 L77.38,141.18 L78.87,141.33 L80.36,141.46 L81.85,141.57 L83.34,141.65 L84.83,141.68 L86.32,141.65 L87.81,141.58 L89.30,141.50 L90.79,141.45 L92.29,141.44 L93.78,141.48 L95.27,141.56 L96.76,141.66 L98.25,141.79 L99.74,141.94 L101.23,142.10 L102.72,142.26 L104.21,142.43 L105.70,142.60 L107.19,142.78 L108.68,142.97 L110.17,143.17 L111.66,143.39 L113.15,143.62 L114.64,143.87 L116.13,144.14 L117.62,144.44 L119.11,144.79 L120.60,145.18 L122.09,145.60 L123.58,146.05 L125.08,146.50 L126.57,146.95 L128.06,147.41 L129.55,147.88 L131.04,148.35 L132.53,148.82 L134.02,149.31 L135.51,149.81 L137.00,150.32 L138.49,150.84 L139.98,151.37 L141.47,151.92 L142.96,152.48 L144.45,153.06 L145.94,153.66 L147.43,154.28 L148.92,154.91 L150.41,155.56 L151.90,156.23 L153.39,156.91 L154.88,157.62 L156.37,158.34 L157.87,159.08 L159.36,159.84 L160.85,160.62 L162.34,161.41 L163.83,162.22 L165.32,163.05 L166.81,163.88 L168.30,164.73 L169.79,165.58 L171.28,166.44 L172.77,167.31 L174.26,168.17 L175.75,169.04 L177.24,169.90 L178.73,170.76 L180.22,171.62 L181.71,172.46 L183.20,173.30 L184.69,174.12 L186.18,174.95 L187.67,175.76 L189.16,176.58 L190.66,177.40 L192.15,178.22 L193.64,179.05 L195.13,179.89 L196.62,180.73 L198.11,181.59 L199.60,182.47 L201.09,183.36 L202.58,184.26 L204.07,185.18 L205.56,186.12 L207.05,187.06 L208.54,188.02 L210.03,188.98 L211.52,189.96 L213.01,190.93 L214.50,191.92 L215.99,192.90 L217.48,193.89 L218.97,194.88 L220.46,195.86 L221.95,196.85 L223.45,197.83 L224.94,198.80 L226.43,199.77 L227.92,200.72 L229.41,201.68 L230.90,202.62 L232.39,203.56 L233.88,204.49 L235.37,205.42 L236.86,206.35 L238.35,207.27 L239.84,208.19 L241.33,209.11 L242.82,210.02 L244.31,210.94 L245.80,211.85 L247.29,212.77 L248.78,213.68 L250.27,214.60 L251.76,215.52 L253.25,216.44 L254.74,217.37 L256.24,218.31 L257.73,219.25 L259.22,220.19 L260.71,221.14 L262.20,222.10 L263.69,223.07 L265.18,224.04 L266.67,225.01 L268.16,225.99 L269.65,226.97 L271.14,227.95 L272.63,228.93 L274.12,229.90 L275.61,230.88 L277.10,231.84 L278.59,232.81 L280.08,233.77 L281.57,234.72 L283.06,235.66 L284.55,236.59 L286.04,237.52 L287.53,238.43 L289.03,239.34 L290.52,240.23 L292.01,241.11 L293.50,241.99 L294.99,242.85 L296.48,243.69 L297.97,244.53 L299.46,245.35 L300.95,246.16 L302.44,246.95 L303.93,247.73 L305.42,248.49 L306.91,249.24 L308.40,249.97 L309.89,250.69 L311.38,251.39 L312.87,252.08 L314.36,252.76 L315.85,253.42 L317.34,254.07 L318.83,254.70 L320.32,255.33 L321.82,255.94 L323.31,256.54 L324.80,257.13 L326.29,257.71 L327.78,258.28 L329.27,258.84 L330.76,259.40 L332.25,259.94 L333.74,260.48 L335.23,261.02 L336.72,261.56 L338.21,262.11 L339.70,262.66 L341.19,263.21 L342.68,263.75 L344.17,264.28 L345.66,264.80 L347.15,265.31 L348.64,265.79 L350.13,266.25 L351.62,266.68 L353.11,267.08 L354.61,267.45 L356.10,267.78 L357.59,268.07 L359.08,268.32 L360.57,268.52 L362.06,268.68 L363.55,268.80 L365.04,268.91 L366.53,269.00 L368.02,269.09 L369.51,269.19 L371.00,269.30 M74.40,170.70 L75.86,170.87 L77.31,171.01 L78.77,171.12 L80.22,171.20 L81.68,171.26 L83.13,171.30 L84.59,171.33 L86.04,171.35 L87.50,171.36 L88.95,171.37 L90.41,171.38 L91.86,171.39 L93.32,171.41 L94.77,171.43 L96.23,171.46 L97.68,171.50 L99.14,171.55 L100.59,171.61 L102.05,171.69 L103.51,171.78 L104.96,171.89 L106.42,172.01 L107.87,172.16 L109.33,172.33 L110.78,172.52 L112.24,172.72 L113.69,172.95 L115.15,173.20 L116.60,173.45 L118.06,173.73 L119.51,174.01 L120.97,174.30 L122.42,174.60 L123.88,174.90 L125.33,175.21 L126.79,175.52 L128.25,175.83 L129.70,176.14 L131.16,176.45 L132.61,176.76 L134.07,177.07 L135.52,177.39 L136.98,177.72 L138.43,178.06 L139.89,178.41 L141.34,178.77 L142.80,179.15 L144.25,179.55 L145.71,179.97 L147.16,180.41 L148.62,180.87 L150.07,181.35 L151.53,181.86 L152.98,182.38 L154.44,182.93 L155.90,183.48 L157.35,184.06 L158.81,184.64 L160.26,185.24 L161.72,185.85 L163.17,186.46 L164.63,187.08 L166.08,187.72 L167.54,188.36 L168.99,189.01 L170.45,189.67 L171.90,190.33 L173.36,191.01 L174.81,191.69 L176.27,192.37 L177.72,193.05 L179.18,193.73 L180.64,194.41 L182.09,195.07 L183.55,195.73 L185.00,196.38 L186.46,197.03 L187.91,197.68 L189.37,198.33 L190.82,198.98 L192.28,199.65 L193.73,200.32 L195.19,201.00 L196.64,201.69 L198.10,202.39 L199.55,203.09 L201.01,203.81 L202.46,204.52 L203.92,205.25 L205.37,205.98 L206.83,206.71 L208.29,207.45 L209.74,208.19 L211.20,208.93 L212.65,209.68 L214.11,210.42 L215.56,211.17 L217.02,211.91 L218.47,212.65 L219.93,213.40 L221.38,214.14 L222.84,214.87 L224.29,215.61 L225.75,216.34 L227.20,217.06 L228.66,217.78 L230.11,218.50 L231.57,219.22 L233.03,219.93 L234.48,220.64 L235.94,221.35 L237.39,222.06 L238.85,222.78 L240.30,223.49 L241.76,224.21 L243.21,224.93 L244.67,225.65 L246.12,226.37 L247.58,227.10 L249.03,227.82 L250.49,228.54 L251.94,229.26 L253.40,229.97 L254.85,230.68 L256.31,231.38 L257.76,232.08 L259.22,232.77 L260.68,233.45 L262.13,234.13 L263.59,234.80 L265.04,235.48 L266.50,236.15 L267.95,236.82 L269.41,237.50 L270.86,238.17 L272.32,238.84 L273.77,239.51 L275.23,240.19 L276.68,240.86 L278.14,241.53 L279.59,242.20 L281.05,242.86 L282.50,243.53 L283.96,244.19 L285.42,244.85 L286.87,245.50 L288.33,246.15 L289.78,246.80 L291.24,247.44 L292.69,248.08 L294.15,248.72 L295.60,249.34 L297.06,249.97 L298.51,250.58 L299.97,251.20 L301.42,251.80 L302.88,252.40 L304.33,252.99 L305.79,253.57 L307.24,254.15 L308.70,254.71 L310.15,255.27 L311.61,255.82 L313.07,256.36 L314.52,256.89 L315.98,257.41 L317.43,257.92 L318.89,258.42 L320.34,258.91 L321.80,259.40 L323.25,259.87 L324.71,260.33 L326.16,260.79 L327.62,261.24 L329.07,261.69 L330.53,262.14 L331.98,262.58 L333.44,263.01 L334.89,263.45 L336.35,263.88 L337.81,264.32 L339.26,264.75 L340.72,265.18 L342.17,265.59 L343.63,266.00 L345.08,266.39 L346.54,266.77 L347.99,267.12 L349.45,267.44 L350.90,267.74 L352.36,268.02 L353.81,268.26 L355.27,268.48 L356.72,268.67 L358.18,268.84 L359.63,268.99 L361.09,269.12 L362.54,269.22 L364.00,269.30" fill="none" stroke="#ff4040" stroke-width="1.30" stroke-linejoin="round" clip-path="url(#c2)"/>
<path d="M347.40,145.00 L347.55,145.88 L347.71,146.76 L347.86,147.64 L348.01,148.52 L348.16,149.39 L348.30,150.27 L348.45,151.15 L348.59,152.03 L348.73,152.92 L348.88,153.80 L349.01,154.68 L349.15,155.56 L349.29,156.44 L349.43,157.32 L349.56,158.20 L349.69,159.08 L349.83,159.97 L349.96,160.85 L350.09,161.73 L350.22,162.61 L350.34,163.50 L350.46,164.38 L350.56,165.27 L350.66,166.17 L350.76,167.06 L350.85,167.96 L350.95,168.85 L351.05,169.74 L351.15,170.63 L351.27,171.51 L351.40,172.39 L351.55,173.27 L351.71,174.13 L351.90,174.99 L352.22,175.82 L352.49,176.66 L352.69,177.52 L352.87,178.39 L353.04,179.26 L353.19,180.14 L353.32,181.03 L353.45,181.91 L353.58,182.80 L353.70,183.69 L353.82,184.58 L353.95,185.46 L354.08,186.35 L354.21,187.23 L354.34,188.11 L354.47,188.99 L354.59,189.88 L354.71,190.76 L354.83,191.65 L354.95,192.53 L355.06,193.41 L355.17,194.30 L355.29,195.18 L355.39,196.07 L355.50,196.96 L355.59,197.84 L355.69,198.73 L355.79,199.62 L355.88,200.50 L355.97,201.39 L356.07,202.28 L356.17,203.16 L356.28,204.05 L356.39,204.93 L356.51,205.82 L356.64,206.70 L356.77,207.58 L356.91,208.46 L357.06,209.34 L357.21,210.22 L357.38,211.10 L357.55,211.97 L357.72,212.85 L357.89,213.72 L358.06,214.60 L358.23,215.47 L358.40,216.35 L358.56,217.23 L358.72,218.10 L358.89,218.98 L359.05,219.86 L359.21,220.73 L359.37,221.61 L359.53,222.49 L359.68,223.37 L359.83,224.25 L359.97,225.13 L360.11,226.01 L360.23,226.89 L360.35,227.78 L360.46,228.66 L360.58,229.55 L360.71,230.43 L360.85,231.31 L361.00,232.19 L361.16,233.07 L361.33,233.94 L361.51,234.81 L361.70,235.69 L361.91,236.56 L362.12,237.43 L362.35,238.29 L362.60,239.15 L362.87,239.99 L363.15,240.83 L363.47,241.67 L363.82,242.50 L364.19,243.32 L364.58,244.12 L365.00,244.90 L365.45,245.66 L365.94,246.42 L366.47,247.16 L367.03,247.86 L367.62,248.51 L368.25,249.12 L368.93,249.69 L369.65,250.24 L370.39,250.75 L371.15,251.24 L371.90,251.71 L372.67,252.16 L373.45,252.59 L374.24,253.01 L375.05,253.40 L375.86,253.78 L376.67,254.13 L377.50,254.46 L378.33,254.77 L379.17,255.06 L380.02,255.35 L380.87,255.62 L381.73,255.89 L382.58,256.16 L383.43,256.44 L384.28,256.71 L385.13,256.98 L385.98,257.24 L386.83,257.51 L387.68,257.77 L388.54,258.02 L389.39,258.28 L390.25,258.52 L391.11,258.76 L391.97,259.00 L392.83,259.24 L393.69,259.47 L394.55,259.69 L395.42,259.91 L396.28,260.13 L397.15,260.34 L398.02,260.54 L398.89,260.73 L399.76,260.91 L400.64,261.08 L401.51,261.25 L402.39,261.42 L403.27,261.59 L404.14,261.75 L405.02,261.92 L405.89,262.10 L406.77,262.28 L407.64,262.46 L408.51,262.64 L409.39,262.82 L410.27,262.99 L411.14,263.14 L412.02,263.28 L412.90,263.42 L413.79,263.55 L414.67,263.68 L415.55,263.79 L416.44,263.91 L417.32,264.01 L418.21,264.11 L419.10,264.20 L419.98,264.29 L420.87,264.38 L421.76,264.46 L422.65,264.53 L423.54,264.61 L424.43,264.67 L425.32,264.74 L426.21,264.79 L427.10,264.85 L427.99,264.90 L428.88,264.95 L429.77,265.00 L430.66,265.05 L431.55,265.11 L432.44,265.17 L433.33,265.22 L434.22,265.28 L435.11,265.34 L436.00,265.40 L436.00,267.00 L435.09,266.97 L434.17,266.93 L433.26,266.89 L432.35,266.85 L431.43,266.80 L430.52,266.75 L429.61,266.70 L428.69,266.65 L427.78,266.59 L426.87,266.53 L425.95,266.47 L425.04,266.41 L424.13,266.36 L423.22,266.31 L422.30,266.25 L421.39,266.20 L420.48,266.15 L419.56,266.09 L418.65,266.04 L417.74,265.98 L416.83,265.92 L415.91,265.85 L415.00,265.79 L414.09,265.72 L413.18,265.65 L412.27,265.57 L411.36,265.49 L410.45,265.39 L409.54,265.28 L408.63,265.16 L407.73,265.03 L406.82,264.90 L405.92,264.76 L405.01,264.62 L404.11,264.47 L403.21,264.32 L402.31,264.17 L401.41,264.00 L400.51,263.83 L399.61,263.66 L398.71,263.48 L397.82,263.30 L396.92,263.11 L396.03,262.92 L395.14,262.72 L394.24,262.52 L393.35,262.31 L392.46,262.10 L391.57,261.89 L390.68,261.68 L389.79,261.47 L388.91,261.25 L388.02,261.03 L387.13,260.80 L386.24,260.58 L385.36,260.35 L384.48,260.11 L383.59,259.87 L382.71,259.62 L381.84,259.37 L380.96,259.11 L380.08,258.84 L379.21,258.57 L378.34,258.29 L377.47,258.00 L376.61,257.70 L375.75,257.39 L374.89,257.07 L374.04,256.74 L373.19,256.39 L372.35,256.03 L371.52,255.65 L370.69,255.26 L369.86,254.86 L369.04,254.43 L368.24,253.98 L367.47,253.49 L366.75,252.96 L366.05,252.37 L365.38,251.73 L364.74,251.06 L364.14,250.37 L363.58,249.66 L363.03,248.92 L362.52,248.14 L362.07,247.35 L361.69,246.54 L361.35,245.70 L361.04,244.84 L360.75,243.97 L360.48,243.09 L360.23,242.20 L359.97,241.31 L359.72,240.43 L359.48,239.55 L359.25,238.67 L359.02,237.78 L358.80,236.89 L358.59,236.00 L358.39,235.11 L358.18,234.22 L357.98,233.33 L357.79,232.43 L357.61,231.54 L357.43,230.64 L357.25,229.74 L357.08,228.84 L356.90,227.95 L356.73,227.05 L356.56,226.15 L356.39,225.25 L356.22,224.35 L356.05,223.45 L355.88,222.56 L355.70,221.66 L355.53,220.76 L355.36,219.86 L355.19,218.96 L355.02,218.06 L354.85,217.17 L354.68,216.27 L354.51,215.37 L354.33,214.47 L354.16,213.57 L353.98,212.68 L353.81,211.78 L353.64,210.88 L353.47,209.98 L353.32,209.08 L353.16,208.18 L353.02,207.27 L352.88,206.37 L352.75,205.47 L352.62,204.56 L352.49,203.65 L352.36,202.75 L352.23,201.84 L352.10,200.94 L351.96,200.04 L351.80,199.13 L351.65,198.23 L351.49,197.33 L351.32,196.43 L351.15,195.54 L350.98,194.64 L350.81,193.74 L350.63,192.84 L350.46,191.94 L350.29,191.04 L350.12,190.15 L349.95,189.25 L349.77,188.35 L349.60,187.45 L349.43,186.55 L349.26,185.65 L349.08,184.76 L348.91,183.86 L348.75,182.96 L348.58,182.06 L348.38,181.16 L348.17,180.26 L347.96,179.36 L347.76,178.47 L347.57,177.57 L347.41,176.66 L347.29,175.76 L347.22,174.86 L347.20,173.95 L347.20,173.04 L347.20,172.13 L347.20,171.22 L347.20,170.31 L347.20,169.39 L347.20,168.48 L347.20,167.56 L347.20,166.65 L347.20,165.73 L347.20,164.81 L347.20,163.90 L347.20,162.98 L347.20,162.06 L347.20,161.15 L347.20,160.23 L347.20,159.32 L347.20,158.40 L347.20,157.49 L347.21,156.57 L347.21,155.66 L347.22,154.74 L347.22,153.83 L347.23,152.92 L347.24,152.00 L347.25,151.09 L347.25,150.17 L347.26,149.26 L347.27,148.34 L347.28,147.43 L347.29,146.51 L347.30,145.60Z" fill="#00ff00"/>
<rect x="74.50" y="46.00" width="361.53" height="223.40" fill="none" stroke="#000" stroke-width="0.6"/>
<path d="M262,269.5 H371" stroke="#30287d" stroke-width="1"/>
<path d="M371,269.5 H436.4" stroke="#701832" stroke-width="1"/>
<path d="M74.20,269.40 v-2.70 M74.20,46.00 v2.70 M94.29,269.40 v-2.70 M94.29,46.00 v2.70 M114.37,269.40 v-4.30 M114.37,46.00 v4.30 M134.45,269.40 v-2.70 M134.45,46.00 v2.70 M154.54,269.40 v-2.70 M154.54,46.00 v2.70 M174.62,269.40 v-2.70 M174.62,46.00 v2.70 M194.71,269.40 v-4.30 M194.71,46.00 v4.30 M214.79,269.40 v-2.70 M214.79,46.00 v2.70 M234.88,269.40 v-2.70 M234.88,46.00 v2.70 M254.97,269.40 v-2.70 M254.97,46.00 v2.70 M275.05,269.40 v-4.30 M275.05,46.00 v4.30 M295.14,269.40 v-2.70 M295.14,46.00 v2.70 M315.22,269.40 v-2.70 M315.22,46.00 v2.70 M335.31,269.40 v-2.70 M335.31,46.00 v2.70 M355.39,269.40 v-4.30 M355.39,46.00 v4.30 M375.48,269.40 v-2.70 M375.48,46.00 v2.70 M395.56,269.40 v-2.70 M395.56,46.00 v2.70 M415.65,269.40 v-2.70 M415.65,46.00 v2.70 M435.73,269.40 v-4.30 M435.73,46.00 v4.30 M74.50,269.40 h4.30 M436.03,269.40 h-4.30 M74.50,260.09 h2.70 M436.03,260.09 h-2.70 M74.50,250.78 h2.70 M436.03,250.78 h-2.70 M74.50,241.47 h2.70 M436.03,241.47 h-2.70 M74.50,232.17 h4.30 M436.03,232.17 h-4.30 M74.50,222.86 h2.70 M436.03,222.86 h-2.70 M74.50,213.55 h2.70 M436.03,213.55 h-2.70 M74.50,204.24 h2.70 M436.03,204.24 h-2.70 M74.50,194.93 h4.30 M436.03,194.93 h-4.30 M74.50,185.62 h2.70 M436.03,185.62 h-2.70 M74.50,176.32 h2.70 M436.03,176.32 h-2.70 M74.50,167.01 h2.70 M436.03,167.01 h-2.70 M74.50,157.70 h4.30 M436.03,157.70 h-4.30 M74.50,148.39 h2.70 M436.03,148.39 h-2.70 M74.50,139.08 h2.70 M436.03,139.08 h-2.70 M74.50,129.78 h2.70 M436.03,129.78 h-2.70 M74.50,120.47 h4.30 M436.03,120.47 h-4.30 M74.50,111.16 h2.70 M436.03,111.16 h-2.70 M74.50,101.85 h2.70 M436.03,101.85 h-2.70 M74.50,92.54 h2.70 M436.03,92.54 h-2.70 M74.50,83.23 h4.30 M436.03,83.23 h-4.30 M74.50,73.93 h2.70 M436.03,73.93 h-2.70 M74.50,64.62 h2.70 M436.03,64.62 h-2.70 M74.50,55.31 h2.70 M436.03,55.31 h-2.70 M74.50,46.00 h4.30 M436.03,46.00 h-4.30" stroke="#000" stroke-width="0.55" fill="none"/>
<text x="61.75" y="275.00" class="tk" textLength="8.75" lengthAdjust="spacingAndGlyphs">0</text>
<text x="61.75" y="237.77" class="tk" textLength="8.75" lengthAdjust="spacingAndGlyphs">2</text>
<text x="61.75" y="200.53" class="tk" textLength="8.75" lengthAdjust="spacingAndGlyphs">4</text>
<text x="61.75" y="163.30" class="tk" textLength="8.75" lengthAdjust="spacingAndGlyphs">6</text>
<text x="61.75" y="126.07" class="tk" textLength="8.75" lengthAdjust="spacingAndGlyphs">8</text>
<text x="53.00" y="88.83" class="tk" textLength="17.50" lengthAdjust="spacingAndGlyphs">10</text>
<text x="53.00" y="51.60" class="tk" textLength="17.50" lengthAdjust="spacingAndGlyphs">12</text>
<text x="106.02" y="289.40" class="tk" textLength="17.50" lengthAdjust="spacingAndGlyphs">20</text>
<text x="186.36" y="289.40" class="tk" textLength="17.50" lengthAdjust="spacingAndGlyphs">40</text>
<text x="266.70" y="289.40" class="tk" textLength="17.50" lengthAdjust="spacingAndGlyphs">60</text>
<text x="347.04" y="289.40" class="tk" textLength="17.50" lengthAdjust="spacingAndGlyphs">80</text>
<text x="423.01" y="289.40" class="tk" textLength="26.25" lengthAdjust="spacingAndGlyphs">100</text>
<text x="128.40" y="144.60" class="sl" textLength="52.0" lengthAdjust="spacingAndGlyphs">200 GeV</text>
<text x="129.70" y="246.60" class="sl" textLength="50.6" lengthAdjust="spacingAndGlyphs">120 GeV</text>
<text x="353.40" y="163.00" class="sl" textLength="52.0" lengthAdjust="spacingAndGlyphs">350 GeV</text>
<text x="164.00" y="29.90" class="tt">tan</text>
<text x="187.20" y="29.90" class="tt" textLength="10.90" lengthAdjust="spacingAndGlyphs">α</text>
<text x="199.20" y="29.90" class="tt">=</text>
<text x="210.30" y="29.90" class="tt" textLength="32.50" lengthAdjust="spacingAndGlyphs">0.45</text>
<text x="253.60" y="29.90" class="tt" textLength="26.90" lengthAdjust="spacingAndGlyphs">and</text>
<text x="290.50" y="29.90" class="tt">tan</text>
<text x="313.30" y="29.90" class="tt">β</text>
<text x="326.30" y="29.90" class="tt">=</text>
<text x="338.00" y="29.90" class="tt">1</text>
<text x="212.60" y="312.80" class="it" textLength="14.80" lengthAdjust="spacingAndGlyphs">m</text>
<text x="227.00" y="316.50" class="it" textLength="10.60" lengthAdjust="spacingAndGlyphs" style="font-size:13.6px">D</text>
<text x="249.10" y="312.80" class="tt" textLength="47.90" lengthAdjust="spacingAndGlyphs">(GeV)</text>
<g transform="translate(43.60,226.6) rotate(-90)">
<text x="-0.30" y="0.00" class="tt" textLength="11.00" lengthAdjust="spacingAndGlyphs">Γ</text>
<text x="11.30" y="-1.00" class="pp">(</text>
<text x="18.30" y="0.00" class="it">h</text>
<path d="M29.9,-5.5 H43.0 M39.1,-9.3 Q40.6,-6.3 43.3,-5.5 Q40.6,-4.7 39.1,-1.7" fill="none" stroke="#000" stroke-width="0.95" stroke-linecap="round" stroke-linejoin="round"/>
<text x="45.60" y="0.00" class="it" textLength="25.60" lengthAdjust="spacingAndGlyphs">DD</text>
<text x="70.90" y="-1.00" class="pp">)</text>
<text x="89.20" y="0.00" class="tt" textLength="48.80" lengthAdjust="spacingAndGlyphs">(GeV)</text>
</g>
<clipPath id="c3"><path d="M510.40,225.30 L511.35,225.39 L512.29,225.48 L513.24,225.58 L514.19,225.69 L515.13,225.79 L516.08,225.91 L517.03,226.02 L517.97,226.15 L518.92,226.27 L519.87,226.40 L520.81,226.54 L521.76,226.68 L522.71,226.82 L523.65,226.97 L524.60,227.12 L525.55,227.28 L526.49,227.44 L527.44,227.60 L528.39,227.77 L529.33,227.95 L530.28,228.12 L531.23,228.30 L532.17,228.49 L533.12,228.67 L534.07,228.87 L535.02,229.06 L535.96,229.26 L536.91,229.46 L537.86,229.67 L538.80,229.88 L539.75,230.09 L540.70,230.30 L541.64,230.52 L542.59,230.74 L543.54,230.97 L544.48,231.20 L545.43,231.43 L546.38,231.66 L547.32,231.90 L548.27,232.14 L549.22,232.38 L550.16,232.62 L551.11,232.87 L552.06,233.12 L553.00,233.38 L553.95,233.63 L554.90,233.89 L555.84,234.15 L556.79,234.41 L557.74,234.68 L558.68,234.95 L559.63,235.21 L560.58,235.49 L561.52,235.76 L562.47,236.04 L563.42,236.31 L564.36,236.59 L565.31,236.87 L566.26,237.16 L567.20,237.44 L568.15,237.73 L569.10,238.02 L570.04,238.31 L570.99,238.60 L571.94,238.89 L572.88,239.19 L573.83,239.48 L574.78,239.78 L575.72,240.08 L576.67,240.38 L577.62,240.68 L578.56,240.98 L579.51,241.28 L580.46,241.59 L581.41,241.89 L582.35,242.20 L583.30,242.50 L584.25,242.81 L585.19,243.12 L586.14,243.43 L587.09,243.74 L588.03,244.05 L588.98,244.36 L589.93,244.67 L590.87,244.98 L591.82,245.29 L592.77,245.60 L593.71,245.91 L594.66,246.23 L595.61,246.54 L596.55,246.85 L597.50,247.16 L598.45,247.48 L599.39,247.79 L600.34,248.10 L601.29,248.41 L602.23,248.72 L603.18,249.03 L604.13,249.35 L605.07,249.66 L606.02,249.97 L606.97,250.28 L607.91,250.58 L608.86,250.89 L609.81,251.20 L610.75,251.51 L611.70,251.81 L612.65,252.12 L613.59,252.42 L614.54,252.73 L615.49,253.03 L616.43,253.33 L617.38,253.63 L618.33,253.93 L619.27,254.23 L620.22,254.52 L621.17,254.82 L622.11,255.11 L623.06,255.41 L624.01,255.70 L624.95,255.99 L625.90,256.27 L626.85,256.56 L627.79,256.84 L628.74,257.13 L629.69,257.41 L630.64,257.69 L631.58,257.96 L632.53,258.24 L633.48,258.51 L634.42,258.78 L635.37,259.05 L636.32,259.32 L637.26,259.58 L638.21,259.84 L639.16,260.10 L640.10,260.36 L641.05,260.61 L642.00,260.87 L642.94,261.12 L643.89,261.36 L644.84,261.61 L645.78,261.85 L646.73,262.09 L647.68,262.32 L648.62,262.55 L649.57,262.78 L650.52,263.01 L651.46,263.23 L652.41,263.46 L653.36,263.67 L654.30,263.89 L655.25,264.10 L656.20,264.31 L657.14,264.51 L658.09,264.71 L659.04,264.91 L659.98,265.10 L660.93,265.29 L661.88,265.48 L662.82,265.66 L663.77,265.84 L664.72,266.01 L665.66,266.18 L666.61,266.35 L667.56,266.51 L668.50,266.67 L669.45,266.83 L670.40,266.98 L671.34,267.13 L672.29,267.27 L673.24,267.41 L674.18,267.54 L675.13,267.67 L676.08,267.79 L677.03,267.91 L677.97,268.03 L678.92,268.14 L679.87,268.25 L680.81,268.35 L681.76,268.44 L682.71,268.54 L683.65,268.62 L684.60,268.71 L685.55,268.78 L686.49,268.85 L687.44,268.92 L688.39,268.98 L689.33,269.04 L690.28,269.09 L691.23,269.13 L692.17,269.18 L693.12,269.21 L694.07,269.24 L695.01,269.26 L695.96,269.28 L696.91,269.29 L697.85,269.30 L698.80,269.30 L698.80,269.40 L697.85,269.42 L696.91,269.43 L695.96,269.44 L695.01,269.44 L694.07,269.44 L693.12,269.43 L692.17,269.42 L691.23,269.40 L690.28,269.38 L689.33,269.35 L688.39,269.32 L687.44,269.29 L686.49,269.25 L685.55,269.21 L684.60,269.16 L683.65,269.11 L682.71,269.05 L681.76,268.99 L680.81,268.93 L679.87,268.86 L678.92,268.79 L677.97,268.71 L677.03,268.63 L676.08,268.54 L675.13,268.46 L674.18,268.36 L673.24,268.27 L672.29,268.17 L671.34,268.06 L670.40,267.96 L669.45,267.85 L668.50,267.73 L667.56,267.62 L666.61,267.50 L665.66,267.37 L664.72,267.24 L663.77,267.11 L662.82,266.98 L661.88,266.84 L660.93,266.70 L659.98,266.56 L659.04,266.41 L658.09,266.26 L657.14,266.11 L656.20,265.96 L655.25,265.80 L654.30,265.64 L653.36,265.47 L652.41,265.31 L651.46,265.14 L650.52,264.97 L649.57,264.79 L648.62,264.62 L647.68,264.44 L646.73,264.25 L645.78,264.07 L644.84,263.88 L643.89,263.70 L642.94,263.50 L642.00,263.31 L641.05,263.12 L640.10,262.92 L639.16,262.72 L638.21,262.52 L637.26,262.32 L636.32,262.11 L635.37,261.90 L634.42,261.69 L633.48,261.48 L632.53,261.27 L631.58,261.06 L630.64,260.84 L629.69,260.62 L628.74,260.41 L627.79,260.19 L626.85,259.96 L625.90,259.74 L624.95,259.52 L624.01,259.29 L623.06,259.06 L622.11,258.84 L621.17,258.61 L620.22,258.38 L619.27,258.14 L618.33,257.91 L617.38,257.68 L616.43,257.44 L615.49,257.21 L614.54,256.97 L613.59,256.74 L612.65,256.50 L611.70,256.26 L610.75,256.02 L609.81,255.78 L608.86,255.54 L607.91,255.30 L606.97,255.06 L606.02,254.82 L605.07,254.58 L604.13,254.34 L603.18,254.09 L602.23,253.85 L601.29,253.61 L600.34,253.37 L599.39,253.12 L598.45,252.88 L597.50,252.64 L596.55,252.39 L595.61,252.15 L594.66,251.91 L593.71,251.67 L592.77,251.42 L591.82,251.18 L590.87,250.94 L589.93,250.70 L588.98,250.46 L588.03,250.21 L587.09,249.97 L586.14,249.73 L585.19,249.49 L584.25,249.26 L583.30,249.02 L582.35,248.78 L581.41,248.54 L580.46,248.30 L579.51,248.07 L578.56,247.83 L577.62,247.60 L576.67,247.37 L575.72,247.13 L574.78,246.90 L573.83,246.67 L572.88,246.44 L571.94,246.21 L570.99,245.99 L570.04,245.76 L569.10,245.53 L568.15,245.31 L567.20,245.09 L566.26,244.87 L565.31,244.65 L564.36,244.43 L563.42,244.21 L562.47,243.99 L561.52,243.78 L560.58,243.57 L559.63,243.36 L558.68,243.15 L557.74,242.94 L556.79,242.73 L555.84,242.53 L554.90,242.32 L553.95,242.12 L553.00,241.92 L552.06,241.73 L551.11,241.53 L550.16,241.34 L549.22,241.15 L548.27,240.96 L547.32,240.77 L546.38,240.58 L545.43,240.40 L544.48,240.22 L543.54,240.04 L542.59,239.86 L541.64,239.69 L540.70,239.52 L539.75,239.35 L538.80,239.18 L537.86,239.02 L536.91,238.86 L535.96,238.70 L535.02,238.54 L534.07,238.38 L533.12,238.23 L532.17,238.08 L531.23,237.94 L530.28,237.80 L529.33,237.65 L528.39,237.52 L527.44,237.38 L526.49,237.25 L525.55,237.12 L524.60,237.00 L523.65,236.87 L522.71,236.75 L521.76,236.64 L520.81,236.52 L519.87,236.41 L518.92,236.31 L517.97,236.20 L517.03,236.10 L516.08,236.01 L515.13,235.91 L514.19,235.82 L513.24,235.74 L512.29,235.66 L511.35,235.58 L510.40,235.50Z"/></clipPath>
<path d="M510.40,225.30 L511.35,225.39 L512.29,225.48 L513.24,225.58 L514.19,225.69 L515.13,225.79 L516.08,225.91 L517.03,226.02 L517.97,226.15 L518.92,226.27 L519.87,226.40 L520.81,226.54 L521.76,226.68 L522.71,226.82 L523.65,226.97 L524.60,227.12 L525.55,227.28 L526.49,227.44 L527.44,227.60 L528.39,227.77 L529.33,227.95 L530.28,228.12 L531.23,228.30 L532.17,228.49 L533.12,228.67 L534.07,228.87 L535.02,229.06 L535.96,229.26 L536.91,229.46 L537.86,229.67 L538.80,229.88 L539.75,230.09 L540.70,230.30 L541.64,230.52 L542.59,230.74 L543.54,230.97 L544.48,231.20 L545.43,231.43 L546.38,231.66 L547.32,231.90 L548.27,232.14 L549.22,232.38 L550.16,232.62 L551.11,232.87 L552.06,233.12 L553.00,233.38 L553.95,233.63 L554.90,233.89 L555.84,234.15 L556.79,234.41 L557.74,234.68 L558.68,234.95 L559.63,235.21 L560.58,235.49 L561.52,235.76 L562.47,236.04 L563.42,236.31 L564.36,236.59 L565.31,236.87 L566.26,237.16 L567.20,237.44 L568.15,237.73 L569.10,238.02 L570.04,238.31 L570.99,238.60 L571.94,238.89 L572.88,239.19 L573.83,239.48 L574.78,239.78 L575.72,240.08 L576.67,240.38 L577.62,240.68 L578.56,240.98 L579.51,241.28 L580.46,241.59 L581.41,241.89 L582.35,242.20 L583.30,242.50 L584.25,242.81 L585.19,243.12 L586.14,243.43 L587.09,243.74 L588.03,244.05 L588.98,244.36 L589.93,244.67 L590.87,244.98 L591.82,245.29 L592.77,245.60 L593.71,245.91 L594.66,246.23 L595.61,246.54 L596.55,246.85 L597.50,247.16 L598.45,247.48 L599.39,247.79 L600.34,248.10 L601.29,248.41 L602.23,248.72 L603.18,249.03 L604.13,249.35 L605.07,249.66 L606.02,249.97 L606.97,250.28 L607.91,250.58 L608.86,250.89 L609.81,251.20 L610.75,251.51 L611.70,251.81 L612.65,252.12 L613.59,252.42 L614.54,252.73 L615.49,253.03 L616.43,253.33 L617.38,253.63 L618.33,253.93 L619.27,254.23 L620.22,254.52 L621.17,254.82 L622.11,255.11 L623.06,255.41 L624.01,255.70 L624.95,255.99 L625.90,256.27 L626.85,256.56 L627.79,256.84 L628.74,257.13 L629.69,257.41 L630.64,257.69 L631.58,257.96 L632.53,258.24 L633.48,258.51 L634.42,258.78 L635.37,259.05 L636.32,259.32 L637.26,259.58 L638.21,259.84 L639.16,260.10 L640.10,260.36 L641.05,260.61 L642.00,260.87 L642.94,261.12 L643.89,261.36 L644.84,261.61 L645.78,261.85 L646.73,262.09 L647.68,262.32 L648.62,262.55 L649.57,262.78 L650.52,263.01 L651.46,263.23 L652.41,263.46 L653.36,263.67 L654.30,263.89 L655.25,264.10 L656.20,264.31 L657.14,264.51 L658.09,264.71 L659.04,264.91 L659.98,265.10 L660.93,265.29 L661.88,265.48 L662.82,265.66 L663.77,265.84 L664.72,266.01 L665.66,266.18 L666.61,266.35 L667.56,266.51 L668.50,266.67 L669.45,266.83 L670.40,266.98 L671.34,267.13 L672.29,267.27 L673.24,267.41 L674.18,267.54 L675.13,267.67 L676.08,267.79 L677.03,267.91 L677.97,268.03 L678.92,268.14 L679.87,268.25 L680.81,268.35 L681.76,268.44 L682.71,268.54 L683.65,268.62 L684.60,268.71 L685.55,268.78 L686.49,268.85 L687.44,268.92 L688.39,268.98 L689.33,269.04 L690.28,269.09 L691.23,269.13 L692.17,269.18 L693.12,269.21 L694.07,269.24 L695.01,269.26 L695.96,269.28 L696.91,269.29 L697.85,269.30 L698.80,269.30 L698.80,269.40 L697.85,269.42 L696.91,269.43 L695.96,269.44 L695.01,269.44 L694.07,269.44 L693.12,269.43 L692.17,269.42 L691.23,269.40 L690.28,269.38 L689.33,269.35 L688.39,269.32 L687.44,269.29 L686.49,269.25 L685.55,269.21 L684.60,269.16 L683.65,269.11 L682.71,269.05 L681.76,268.99 L680.81,268.93 L679.87,268.86 L678.92,268.79 L677.97,268.71 L677.03,268.63 L676.08,268.54 L675.13,268.46 L674.18,268.36 L673.24,268.27 L672.29,268.17 L671.34,268.06 L670.40,267.96 L669.45,267.85 L668.50,267.73 L667.56,267.62 L666.61,267.50 L665.66,267.37 L664.72,267.24 L663.77,267.11 L662.82,266.98 L661.88,266.84 L660.93,266.70 L659.98,266.56 L659.04,266.41 L658.09,266.26 L657.14,266.11 L656.20,265.96 L655.25,265.80 L654.30,265.64 L653.36,265.47 L652.41,265.31 L651.46,265.14 L650.52,264.97 L649.57,264.79 L648.62,264.62 L647.68,264.44 L646.73,264.25 L645.78,264.07 L644.84,263.88 L643.89,263.70 L642.94,263.50 L642.00,263.31 L641.05,263.12 L640.10,262.92 L639.16,262.72 L638.21,262.52 L637.26,262.32 L636.32,262.11 L635.37,261.90 L634.42,261.69 L633.48,261.48 L632.53,261.27 L631.58,261.06 L630.64,260.84 L629.69,260.62 L628.74,260.41 L627.79,260.19 L626.85,259.96 L625.90,259.74 L624.95,259.52 L624.01,259.29 L623.06,259.06 L622.11,258.84 L621.17,258.61 L620.22,258.38 L619.27,258.14 L618.33,257.91 L617.38,257.68 L616.43,257.44 L615.49,257.21 L614.54,256.97 L613.59,256.74 L612.65,256.50 L611.70,256.26 L610.75,256.02 L609.81,255.78 L608.86,255.54 L607.91,255.30 L606.97,255.06 L606.02,254.82 L605.07,254.58 L604.13,254.34 L603.18,254.09 L602.23,253.85 L601.29,253.61 L600.34,253.37 L599.39,253.12 L598.45,252.88 L597.50,252.64 L596.55,252.39 L595.61,252.15 L594.66,251.91 L593.71,251.67 L592.77,251.42 L591.82,251.18 L590.87,250.94 L589.93,250.70 L588.98,250.46 L588.03,250.21 L587.09,249.97 L586.14,249.73 L585.19,249.49 L584.25,249.26 L583.30,249.02 L582.35,248.78 L581.41,248.54 L580.46,248.30 L579.51,248.07 L578.56,247.83 L577.62,247.60 L576.67,247.37 L575.72,247.13 L574.78,246.90 L573.83,246.67 L572.88,246.44 L571.94,246.21 L570.99,245.99 L570.04,245.76 L569.10,245.53 L568.15,245.31 L567.20,245.09 L566.26,244.87 L565.31,244.65 L564.36,244.43 L563.42,244.21 L562.47,243.99 L561.52,243.78 L560.58,243.57 L559.63,243.36 L558.68,243.15 L557.74,242.94 L556.79,242.73 L555.84,242.53 L554.90,242.32 L553.95,242.12 L553.00,241.92 L552.06,241.73 L551.11,241.53 L550.16,241.34 L549.22,241.15 L548.27,240.96 L547.32,240.77 L546.38,240.58 L545.43,240.40 L544.48,240.22 L543.54,240.04 L542.59,239.86 L541.64,239.69 L540.70,239.52 L539.75,239.35 L538.80,239.18 L537.86,239.02 L536.91,238.86 L535.96,238.70 L535.02,238.54 L534.07,238.38 L533.12,238.23 L532.17,238.08 L531.23,237.94 L530.28,237.80 L529.33,237.65 L528.39,237.52 L527.44,237.38 L526.49,237.25 L525.55,237.12 L524.60,237.00 L523.65,236.87 L522.71,236.75 L521.76,236.64 L520.81,236.52 L519.87,236.41 L518.92,236.31 L517.97,236.20 L517.03,236.10 L516.08,236.01 L515.13,235.91 L514.19,235.82 L513.24,235.74 L512.29,235.66 L511.35,235.58 L510.40,235.50Z" fill="#6666ff"/>
<path d="M510.40,225.30 L511.35,225.39 L512.29,225.48 L513.24,225.58 L514.19,225.69 L515.13,225.79 L516.08,225.91 L517.03,226.02 L517.97,226.15 L518.92,226.27 L519.87,226.40 L520.81,226.54 L521.76,226.68 L522.71,226.82 L523.65,226.97 L524.60,227.12 L525.55,227.28 L526.49,227.44 L527.44,227.60 L528.39,227.77 L529.33,227.95 L530.28,228.12 L531.23,228.30 L532.17,228.49 L533.12,228.67 L534.07,228.87 L535.02,229.06 L535.96,229.26 L536.91,229.46 L537.86,229.67 L538.80,229.88 L539.75,230.09 L540.70,230.30 L541.64,230.52 L542.59,230.74 L543.54,230.97 L544.48,231.20 L545.43,231.43 L546.38,231.66 L547.32,231.90 L548.27,232.14 L549.22,232.38 L550.16,232.62 L551.11,232.87 L552.06,233.12 L553.00,233.38 L553.95,233.63 L554.90,233.89 L555.84,234.15 L556.79,234.41 L557.74,234.68 L558.68,234.95 L559.63,235.21 L560.58,235.49 L561.52,235.76 L562.47,236.04 L563.42,236.31 L564.36,236.59 L565.31,236.87 L566.26,237.16 L567.20,237.44 L568.15,237.73 L569.10,238.02 L570.04,238.31 L570.99,238.60 L571.94,238.89 L572.88,239.19 L573.83,239.48 L574.78,239.78 L575.72,240.08 L576.67,240.38 L577.62,240.68 L578.56,240.98 L579.51,241.28 L580.46,241.59 L581.41,241.89 L582.35,242.20 L583.30,242.50 L584.25,242.81 L585.19,243.12 L586.14,243.43 L587.09,243.74 L588.03,244.05 L588.98,244.36 L589.93,244.67 L590.87,244.98 L591.82,245.29 L592.77,245.60 L593.71,245.91 L594.66,246.23 L595.61,246.54 L596.55,246.85 L597.50,247.16 L598.45,247.48 L599.39,247.79 L600.34,248.10 L601.29,248.41 L602.23,248.72 L603.18,249.03 L604.13,249.35 L605.07,249.66 L606.02,249.97 L606.97,250.28 L607.91,250.58 L608.86,250.89 L609.81,251.20 L610.75,251.51 L611.70,251.81 L612.65,252.12 L613.59,252.42 L614.54,252.73 L615.49,253.03 L616.43,253.33 L617.38,253.63 L618.33,253.93 L619.27,254.23 L620.22,254.52 L621.17,254.82 L622.11,255.11 L623.06,255.41 L624.01,255.70 L624.95,255.99 L625.90,256.27 L626.85,256.56 L627.79,256.84 L628.74,257.13 L629.69,257.41 L630.64,257.69 L631.58,257.96 L632.53,258.24 L633.48,258.51 L634.42,258.78 L635.37,259.05 L636.32,259.32 L637.26,259.58 L638.21,259.84 L639.16,260.10 L640.10,260.36 L641.05,260.61 L642.00,260.87 L642.94,261.12 L643.89,261.36 L644.84,261.61 L645.78,261.85 L646.73,262.09 L647.68,262.32 L648.62,262.55 L649.57,262.78 L650.52,263.01 L651.46,263.23 L652.41,263.46 L653.36,263.67 L654.30,263.89 L655.25,264.10 L656.20,264.31 L657.14,264.51 L658.09,264.71 L659.04,264.91 L659.98,265.10 L660.93,265.29 L661.88,265.48 L662.82,265.66 L663.77,265.84 L664.72,266.01 L665.66,266.18 L666.61,266.35 L667.56,266.51 L668.50,266.67 L669.45,266.83 L670.40,266.98 L671.34,267.13 L672.29,267.27 L673.24,267.41 L674.18,267.54 L675.13,267.67 L676.08,267.79 L677.03,267.91 L677.97,268.03 L678.92,268.14 L679.87,268.25 L680.81,268.35 L681.76,268.44 L682.71,268.54 L683.65,268.62 L684.60,268.71 L685.55,268.78 L686.49,268.85 L687.44,268.92 L688.39,268.98 L689.33,269.04 L690.28,269.09 L691.23,269.13 L692.17,269.18 L693.12,269.21 L694.07,269.24 L695.01,269.26 L695.96,269.28 L696.91,269.29 L697.85,269.30 L698.80,269.30 M510.40,235.50 L511.35,235.58 L512.29,235.66 L513.24,235.74 L514.19,235.82 L515.13,235.91 L516.08,236.01 L517.03,236.10 L517.97,236.20 L518.92,236.31 L519.87,236.41 L520.81,236.52 L521.76,236.64 L522.71,236.75 L523.65,236.87 L524.60,237.00 L525.55,237.12 L526.49,237.25 L527.44,237.38 L528.39,237.52 L529.33,237.65 L530.28,237.80 L531.23,237.94 L532.17,238.08 L533.12,238.23 L534.07,238.38 L535.02,238.54 L535.96,238.70 L536.91,238.86 L537.86,239.02 L538.80,239.18 L539.75,239.35 L540.70,239.52 L541.64,239.69 L542.59,239.86 L543.54,240.04 L544.48,240.22 L545.43,240.40 L546.38,240.58 L547.32,240.77 L548.27,240.96 L549.22,241.15 L550.16,241.34 L551.11,241.53 L552.06,241.73 L553.00,241.92 L553.95,242.12 L554.90,242.32 L555.84,242.53 L556.79,242.73 L557.74,242.94 L558.68,243.15 L559.63,243.36 L560.58,243.57 L561.52,243.78 L562.47,243.99 L563.42,244.21 L564.36,244.43 L565.31,244.65 L566.26,244.87 L567.20,245.09 L568.15,245.31 L569.10,245.53 L570.04,245.76 L570.99,245.99 L571.94,246.21 L572.88,246.44 L573.83,246.67 L574.78,246.90 L575.72,247.13 L576.67,247.37 L577.62,247.60 L578.56,247.83 L579.51,248.07 L580.46,248.30 L581.41,248.54 L582.35,248.78 L583.30,249.02 L584.25,249.26 L585.19,249.49 L586.14,249.73 L587.09,249.97 L588.03,250.21 L588.98,250.46 L589.93,250.70 L590.87,250.94 L591.82,251.18 L592.77,251.42 L593.71,251.67 L594.66,251.91 L595.61,252.15 L596.55,252.39 L597.50,252.64 L598.45,252.88 L599.39,253.12 L600.34,253.37 L601.29,253.61 L602.23,253.85 L603.18,254.09 L604.13,254.34 L605.07,254.58 L606.02,254.82 L606.97,255.06 L607.91,255.30 L608.86,255.54 L609.81,255.78 L610.75,256.02 L611.70,256.26 L612.65,256.50 L613.59,256.74 L614.54,256.97 L615.49,257.21 L616.43,257.44 L617.38,257.68 L618.33,257.91 L619.27,258.14 L620.22,258.38 L621.17,258.61 L622.11,258.84 L623.06,259.06 L624.01,259.29 L624.95,259.52 L625.90,259.74 L626.85,259.96 L627.79,260.19 L628.74,260.41 L629.69,260.62 L630.64,260.84 L631.58,261.06 L632.53,261.27 L633.48,261.48 L634.42,261.69 L635.37,261.90 L636.32,262.11 L637.26,262.32 L638.21,262.52 L639.16,262.72 L640.10,262.92 L641.05,263.12 L642.00,263.31 L642.94,263.50 L643.89,263.70 L644.84,263.88 L645.78,264.07 L646.73,264.25 L647.68,264.44 L648.62,264.62 L649.57,264.79 L650.52,264.97 L651.46,265.14 L652.41,265.31 L653.36,265.47 L654.30,265.64 L655.25,265.80 L656.20,265.96 L657.14,266.11 L658.09,266.26 L659.04,266.41 L659.98,266.56 L660.93,266.70 L661.88,266.84 L662.82,266.98 L663.77,267.11 L664.72,267.24 L665.66,267.37 L666.61,267.50 L667.56,267.62 L668.50,267.73 L669.45,267.85 L670.40,267.96 L671.34,268.06 L672.29,268.17 L673.24,268.27 L674.18,268.36 L675.13,268.46 L676.08,268.54 L677.03,268.63 L677.97,268.71 L678.92,268.79 L679.87,268.86 L680.81,268.93 L681.76,268.99 L682.71,269.05 L683.65,269.11 L684.60,269.16 L685.55,269.21 L686.49,269.25 L687.44,269.29 L688.39,269.32 L689.33,269.35 L690.28,269.38 L691.23,269.40 L692.17,269.42 L693.12,269.43 L694.07,269.44 L695.01,269.44 L695.96,269.44 L696.91,269.43 L697.85,269.42 L698.80,269.40" fill="none" stroke="#4040ff" stroke-width="1.30" stroke-linejoin="round" clip-path="url(#c3)"/>
<clipPath id="c4"><path d="M510.50,55.30 L511.94,55.90 L513.37,56.36 L514.81,56.69 L516.25,56.91 L517.68,57.04 L519.12,57.10 L520.56,57.11 L521.99,57.10 L523.43,57.07 L524.87,57.06 L526.30,57.07 L527.74,57.12 L529.18,57.20 L530.61,57.31 L532.05,57.45 L533.49,57.62 L534.92,57.81 L536.36,58.01 L537.80,58.24 L539.23,58.48 L540.67,58.74 L542.11,59.01 L543.54,59.28 L544.98,59.56 L546.42,59.85 L547.85,60.14 L549.29,60.44 L550.73,60.75 L552.16,61.11 L553.60,61.52 L555.04,62.03 L556.47,62.62 L557.91,63.28 L559.35,63.98 L560.78,64.68 L562.22,65.38 L563.66,66.10 L565.09,66.82 L566.53,67.56 L567.97,68.31 L569.40,69.08 L570.84,69.87 L572.28,70.68 L573.71,71.51 L575.15,72.37 L576.59,73.26 L578.02,74.18 L579.46,75.13 L580.90,76.11 L582.33,77.12 L583.77,78.16 L585.21,79.22 L586.64,80.30 L588.08,81.40 L589.52,82.53 L590.95,83.67 L592.39,84.84 L593.83,86.02 L595.26,87.21 L596.70,88.42 L598.14,89.65 L599.57,90.89 L601.01,92.14 L602.45,93.41 L603.88,94.70 L605.32,96.00 L606.76,97.32 L608.19,98.66 L609.63,100.01 L611.07,101.37 L612.50,102.76 L613.94,104.16 L615.38,105.57 L616.81,106.99 L618.25,108.40 L619.69,109.81 L621.12,111.22 L622.56,112.65 L624.00,114.12 L625.43,115.64 L626.87,117.19 L628.31,118.75 L629.74,120.33 L631.18,121.91 L632.62,123.48 L634.05,125.06 L635.49,126.64 L636.93,128.22 L638.36,129.80 L639.80,131.38 L641.24,132.96 L642.67,134.54 L644.11,136.11 L645.55,137.69 L646.98,139.26 L648.42,140.84 L649.86,142.41 L651.29,143.98 L652.73,145.57 L654.17,147.16 L655.61,148.78 L657.04,150.41 L658.48,152.07 L659.92,153.76 L661.35,155.48 L662.79,157.23 L664.23,159.00 L665.66,160.78 L667.10,162.59 L668.54,164.41 L669.97,166.25 L671.41,168.12 L672.85,170.02 L674.28,171.95 L675.72,173.91 L677.16,175.90 L678.59,177.93 L680.03,180.00 L681.47,182.11 L682.90,184.27 L684.34,186.48 L685.78,188.72 L687.21,190.96 L688.65,193.16 L690.09,195.27 L691.52,197.26 L692.96,199.18 L694.40,201.09 L695.83,203.05 L697.27,205.05 L698.71,207.07 L700.14,209.12 L701.58,211.18 L703.02,213.25 L704.45,215.33 L705.89,217.41 L707.33,219.51 L708.76,221.62 L710.20,223.73 L711.64,225.85 L713.07,227.98 L714.51,230.10 L715.95,232.20 L717.38,234.23 L718.82,236.17 L720.26,237.98 L721.69,239.68 L723.13,241.29 L724.57,242.84 L726.00,244.34 L727.44,245.82 L728.88,247.24 L730.31,248.62 L731.75,249.93 L733.19,251.16 L734.62,252.33 L736.06,253.42 L737.50,254.45 L738.93,255.41 L740.37,256.32 L741.81,257.16 L743.24,257.96 L744.68,258.70 L746.12,259.40 L747.55,260.05 L748.99,260.67 L750.43,261.25 L751.86,261.79 L753.30,262.31 L754.74,262.79 L756.17,263.26 L757.61,263.71 L759.05,264.13 L760.48,264.54 L761.92,264.93 L763.36,265.30 L764.79,265.65 L766.23,265.98 L767.67,266.29 L769.10,266.59 L770.54,266.86 L771.98,267.11 L773.41,267.34 L774.85,267.55 L776.29,267.74 L777.72,267.91 L779.16,268.06 L780.60,268.20 L782.03,268.32 L783.47,268.42 L784.91,268.52 L786.34,268.61 L787.78,268.69 L789.22,268.77 L790.65,268.85 L792.09,268.93 L793.53,269.02 L794.96,269.10 L796.40,269.20 L790.00,269.30 L788.60,269.25 L787.19,269.20 L785.79,269.14 L784.38,269.08 L782.98,269.01 L781.57,268.94 L780.17,268.85 L778.76,268.76 L777.36,268.66 L775.95,268.55 L774.55,268.42 L773.15,268.28 L771.74,268.13 L770.34,267.96 L768.93,267.78 L767.53,267.58 L766.12,267.36 L764.72,267.12 L763.31,266.86 L761.91,266.58 L760.51,266.28 L759.10,265.95 L757.70,265.60 L756.29,265.22 L754.89,264.82 L753.48,264.39 L752.08,263.93 L750.67,263.45 L749.27,262.94 L747.86,262.40 L746.46,261.84 L745.06,261.24 L743.65,260.62 L742.25,259.97 L740.84,259.29 L739.44,258.58 L738.03,257.84 L736.63,257.07 L735.22,256.27 L733.82,255.44 L732.41,254.57 L731.01,253.67 L729.61,252.73 L728.20,251.74 L726.80,250.72 L725.39,249.64 L723.99,248.53 L722.58,247.36 L721.18,246.14 L719.77,244.88 L718.37,243.55 L716.96,242.19 L715.56,240.80 L714.16,239.41 L712.75,238.05 L711.35,236.73 L709.94,235.44 L708.54,234.13 L707.13,232.79 L705.73,231.39 L704.32,229.92 L702.92,228.39 L701.52,226.81 L700.11,225.18 L698.71,223.52 L697.30,221.84 L695.90,220.14 L694.49,218.43 L693.09,216.72 L691.68,215.02 L690.28,213.35 L688.87,211.70 L687.47,210.09 L686.07,208.52 L684.66,206.99 L683.26,205.51 L681.85,204.06 L680.45,202.65 L679.04,201.25 L677.64,199.83 L676.23,198.38 L674.83,196.90 L673.42,195.42 L672.02,193.96 L670.62,192.54 L669.21,191.17 L667.81,189.85 L666.40,188.55 L665.00,187.28 L663.59,186.02 L662.19,184.76 L660.78,183.51 L659.38,182.26 L657.97,181.01 L656.57,179.77 L655.17,178.53 L653.76,177.28 L652.36,176.04 L650.95,174.80 L649.55,173.55 L648.14,172.31 L646.74,171.07 L645.33,169.83 L643.93,168.59 L642.53,167.36 L641.12,166.14 L639.72,164.93 L638.31,163.72 L636.91,162.52 L635.50,161.33 L634.10,160.15 L632.69,158.98 L631.29,157.82 L629.88,156.66 L628.48,155.51 L627.08,154.37 L625.67,153.23 L624.27,152.11 L622.86,150.99 L621.46,149.87 L620.05,148.76 L618.65,147.65 L617.24,146.53 L615.84,145.40 L614.43,144.26 L613.03,143.11 L611.63,141.96 L610.22,140.80 L608.82,139.64 L607.41,138.48 L606.01,137.32 L604.60,136.17 L603.20,135.02 L601.79,133.88 L600.39,132.75 L598.98,131.65 L597.58,130.57 L596.18,129.51 L594.77,128.51 L593.37,127.56 L591.96,126.68 L590.56,125.84 L589.15,125.02 L587.75,124.21 L586.34,123.39 L584.94,122.57 L583.54,121.78 L582.13,121.01 L580.73,120.28 L579.32,119.59 L577.92,118.92 L576.51,118.28 L575.11,117.67 L573.70,117.07 L572.30,116.50 L570.89,115.94 L569.49,115.38 L568.09,114.84 L566.68,114.30 L565.28,113.76 L563.87,113.22 L562.47,112.68 L561.06,112.15 L559.66,111.63 L558.25,111.12 L556.85,110.64 L555.44,110.18 L554.04,109.75 L552.64,109.36 L551.23,108.99 L549.83,108.66 L548.42,108.36 L547.02,108.08 L545.61,107.83 L544.21,107.61 L542.80,107.41 L541.40,107.23 L539.99,107.07 L538.59,106.93 L537.19,106.81 L535.78,106.70 L534.38,106.61 L532.97,106.53 L531.57,106.46 L530.16,106.41 L528.76,106.36 L527.35,106.33 L525.95,106.31 L524.55,106.30 L523.14,106.31 L521.74,106.31 L520.33,106.29 L518.93,106.24 L517.52,106.16 L516.12,106.01 L514.71,105.80 L513.31,105.50 L511.90,105.11 L510.50,104.60Z"/></clipPath>
<path d="M510.50,55.30 L511.94,55.90 L513.37,56.36 L514.81,56.69 L516.25,56.91 L517.68,57.04 L519.12,57.10 L520.56,57.11 L521.99,57.10 L523.43,57.07 L524.87,57.06 L526.30,57.07 L527.74,57.12 L529.18,57.20 L530.61,57.31 L532.05,57.45 L533.49,57.62 L534.92,57.81 L536.36,58.01 L537.80,58.24 L539.23,58.48 L540.67,58.74 L542.11,59.01 L543.54,59.28 L544.98,59.56 L546.42,59.85 L547.85,60.14 L549.29,60.44 L550.73,60.75 L552.16,61.11 L553.60,61.52 L555.04,62.03 L556.47,62.62 L557.91,63.28 L559.35,63.98 L560.78,64.68 L562.22,65.38 L563.66,66.10 L565.09,66.82 L566.53,67.56 L567.97,68.31 L569.40,69.08 L570.84,69.87 L572.28,70.68 L573.71,71.51 L575.15,72.37 L576.59,73.26 L578.02,74.18 L579.46,75.13 L580.90,76.11 L582.33,77.12 L583.77,78.16 L585.21,79.22 L586.64,80.30 L588.08,81.40 L589.52,82.53 L590.95,83.67 L592.39,84.84 L593.83,86.02 L595.26,87.21 L596.70,88.42 L598.14,89.65 L599.57,90.89 L601.01,92.14 L602.45,93.41 L603.88,94.70 L605.32,96.00 L606.76,97.32 L608.19,98.66 L609.63,100.01 L611.07,101.37 L612.50,102.76 L613.94,104.16 L615.38,105.57 L616.81,106.99 L618.25,108.40 L619.69,109.81 L621.12,111.22 L622.56,112.65 L624.00,114.12 L625.43,115.64 L626.87,117.19 L628.31,118.75 L629.74,120.33 L631.18,121.91 L632.62,123.48 L634.05,125.06 L635.49,126.64 L636.93,128.22 L638.36,129.80 L639.80,131.38 L641.24,132.96 L642.67,134.54 L644.11,136.11 L645.55,137.69 L646.98,139.26 L648.42,140.84 L649.86,142.41 L651.29,143.98 L652.73,145.57 L654.17,147.16 L655.61,148.78 L657.04,150.41 L658.48,152.07 L659.92,153.76 L661.35,155.48 L662.79,157.23 L664.23,159.00 L665.66,160.78 L667.10,162.59 L668.54,164.41 L669.97,166.25 L671.41,168.12 L672.85,170.02 L674.28,171.95 L675.72,173.91 L677.16,175.90 L678.59,177.93 L680.03,180.00 L681.47,182.11 L682.90,184.27 L684.34,186.48 L685.78,188.72 L687.21,190.96 L688.65,193.16 L690.09,195.27 L691.52,197.26 L692.96,199.18 L694.40,201.09 L695.83,203.05 L697.27,205.05 L698.71,207.07 L700.14,209.12 L701.58,211.18 L703.02,213.25 L704.45,215.33 L705.89,217.41 L707.33,219.51 L708.76,221.62 L710.20,223.73 L711.64,225.85 L713.07,227.98 L714.51,230.10 L715.95,232.20 L717.38,234.23 L718.82,236.17 L720.26,237.98 L721.69,239.68 L723.13,241.29 L724.57,242.84 L726.00,244.34 L727.44,245.82 L728.88,247.24 L730.31,248.62 L731.75,249.93 L733.19,251.16 L734.62,252.33 L736.06,253.42 L737.50,254.45 L738.93,255.41 L740.37,256.32 L741.81,257.16 L743.24,257.96 L744.68,258.70 L746.12,259.40 L747.55,260.05 L748.99,260.67 L750.43,261.25 L751.86,261.79 L753.30,262.31 L754.74,262.79 L756.17,263.26 L757.61,263.71 L759.05,264.13 L760.48,264.54 L761.92,264.93 L763.36,265.30 L764.79,265.65 L766.23,265.98 L767.67,266.29 L769.10,266.59 L770.54,266.86 L771.98,267.11 L773.41,267.34 L774.85,267.55 L776.29,267.74 L777.72,267.91 L779.16,268.06 L780.60,268.20 L782.03,268.32 L783.47,268.42 L784.91,268.52 L786.34,268.61 L787.78,268.69 L789.22,268.77 L790.65,268.85 L792.09,268.93 L793.53,269.02 L794.96,269.10 L796.40,269.20 L790.00,269.30 L788.60,269.25 L787.19,269.20 L785.79,269.14 L784.38,269.08 L782.98,269.01 L781.57,268.94 L780.17,268.85 L778.76,268.76 L777.36,268.66 L775.95,268.55 L774.55,268.42 L773.15,268.28 L771.74,268.13 L770.34,267.96 L768.93,267.78 L767.53,267.58 L766.12,267.36 L764.72,267.12 L763.31,266.86 L761.91,266.58 L760.51,266.28 L759.10,265.95 L757.70,265.60 L756.29,265.22 L754.89,264.82 L753.48,264.39 L752.08,263.93 L750.67,263.45 L749.27,262.94 L747.86,262.40 L746.46,261.84 L745.06,261.24 L743.65,260.62 L742.25,259.97 L740.84,259.29 L739.44,258.58 L738.03,257.84 L736.63,257.07 L735.22,256.27 L733.82,255.44 L732.41,254.57 L731.01,253.67 L729.61,252.73 L728.20,251.74 L726.80,250.72 L725.39,249.64 L723.99,248.53 L722.58,247.36 L721.18,246.14 L719.77,244.88 L718.37,243.55 L716.96,242.19 L715.56,240.80 L714.16,239.41 L712.75,238.05 L711.35,236.73 L709.94,235.44 L708.54,234.13 L707.13,232.79 L705.73,231.39 L704.32,229.92 L702.92,228.39 L701.52,226.81 L700.11,225.18 L698.71,223.52 L697.30,221.84 L695.90,220.14 L694.49,218.43 L693.09,216.72 L691.68,215.02 L690.28,213.35 L688.87,211.70 L687.47,210.09 L686.07,208.52 L684.66,206.99 L683.26,205.51 L681.85,204.06 L680.45,202.65 L679.04,201.25 L677.64,199.83 L676.23,198.38 L674.83,196.90 L673.42,195.42 L672.02,193.96 L670.62,192.54 L669.21,191.17 L667.81,189.85 L666.40,188.55 L665.00,187.28 L663.59,186.02 L662.19,184.76 L660.78,183.51 L659.38,182.26 L657.97,181.01 L656.57,179.77 L655.17,178.53 L653.76,177.28 L652.36,176.04 L650.95,174.80 L649.55,173.55 L648.14,172.31 L646.74,171.07 L645.33,169.83 L643.93,168.59 L642.53,167.36 L641.12,166.14 L639.72,164.93 L638.31,163.72 L636.91,162.52 L635.50,161.33 L634.10,160.15 L632.69,158.98 L631.29,157.82 L629.88,156.66 L628.48,155.51 L627.08,154.37 L625.67,153.23 L624.27,152.11 L622.86,150.99 L621.46,149.87 L620.05,148.76 L618.65,147.65 L617.24,146.53 L615.84,145.40 L614.43,144.26 L613.03,143.11 L611.63,141.96 L610.22,140.80 L608.82,139.64 L607.41,138.48 L606.01,137.32 L604.60,136.17 L603.20,135.02 L601.79,133.88 L600.39,132.75 L598.98,131.65 L597.58,130.57 L596.18,129.51 L594.77,128.51 L593.37,127.56 L591.96,126.68 L590.56,125.84 L589.15,125.02 L587.75,124.21 L586.34,123.39 L584.94,122.57 L583.54,121.78 L582.13,121.01 L580.73,120.28 L579.32,119.59 L577.92,118.92 L576.51,118.28 L575.11,117.67 L573.70,117.07 L572.30,116.50 L570.89,115.94 L569.49,115.38 L568.09,114.84 L566.68,114.30 L565.28,113.76 L563.87,113.22 L562.47,112.68 L561.06,112.15 L559.66,111.63 L558.25,111.12 L556.85,110.64 L555.44,110.18 L554.04,109.75 L552.64,109.36 L551.23,108.99 L549.83,108.66 L548.42,108.36 L547.02,108.08 L545.61,107.83 L544.21,107.61 L542.80,107.41 L541.40,107.23 L539.99,107.07 L538.59,106.93 L537.19,106.81 L535.78,106.70 L534.38,106.61 L532.97,106.53 L531.57,106.46 L530.16,106.41 L528.76,106.36 L527.35,106.33 L525.95,106.31 L524.55,106.30 L523.14,106.31 L521.74,106.31 L520.33,106.29 L518.93,106.24 L517.52,106.16 L516.12,106.01 L514.71,105.80 L513.31,105.50 L511.90,105.11 L510.50,104.60Z" fill="#ff6666"/>
<path d="M510.50,55.30 L511.94,55.90 L513.37,56.36 L514.81,56.69 L516.25,56.91 L517.68,57.04 L519.12,57.10 L520.56,57.11 L521.99,57.10 L523.43,57.07 L524.87,57.06 L526.30,57.07 L527.74,57.12 L529.18,57.20 L530.61,57.31 L532.05,57.45 L533.49,57.62 L534.92,57.81 L536.36,58.01 L537.80,58.24 L539.23,58.48 L540.67,58.74 L542.11,59.01 L543.54,59.28 L544.98,59.56 L546.42,59.85 L547.85,60.14 L549.29,60.44 L550.73,60.75 L552.16,61.11 L553.60,61.52 L555.04,62.03 L556.47,62.62 L557.91,63.28 L559.35,63.98 L560.78,64.68 L562.22,65.38 L563.66,66.10 L565.09,66.82 L566.53,67.56 L567.97,68.31 L569.40,69.08 L570.84,69.87 L572.28,70.68 L573.71,71.51 L575.15,72.37 L576.59,73.26 L578.02,74.18 L579.46,75.13 L580.90,76.11 L582.33,77.12 L583.77,78.16 L585.21,79.22 L586.64,80.30 L588.08,81.40 L589.52,82.53 L590.95,83.67 L592.39,84.84 L593.83,86.02 L595.26,87.21 L596.70,88.42 L598.14,89.65 L599.57,90.89 L601.01,92.14 L602.45,93.41 L603.88,94.70 L605.32,96.00 L606.76,97.32 L608.19,98.66 L609.63,100.01 L611.07,101.37 L612.50,102.76 L613.94,104.16 L615.38,105.57 L616.81,106.99 L618.25,108.40 L619.69,109.81 L621.12,111.22 L622.56,112.65 L624.00,114.12 L625.43,115.64 L626.87,117.19 L628.31,118.75 L629.74,120.33 L631.18,121.91 L632.62,123.48 L634.05,125.06 L635.49,126.64 L636.93,128.22 L638.36,129.80 L639.80,131.38 L641.24,132.96 L642.67,134.54 L644.11,136.11 L645.55,137.69 L646.98,139.26 L648.42,140.84 L649.86,142.41 L651.29,143.98 L652.73,145.57 L654.17,147.16 L655.61,148.78 L657.04,150.41 L658.48,152.07 L659.92,153.76 L661.35,155.48 L662.79,157.23 L664.23,159.00 L665.66,160.78 L667.10,162.59 L668.54,164.41 L669.97,166.25 L671.41,168.12 L672.85,170.02 L674.28,171.95 L675.72,173.91 L677.16,175.90 L678.59,177.93 L680.03,180.00 L681.47,182.11 L682.90,184.27 L684.34,186.48 L685.78,188.72 L687.21,190.96 L688.65,193.16 L690.09,195.27 L691.52,197.26 L692.96,199.18 L694.40,201.09 L695.83,203.05 L697.27,205.05 L698.71,207.07 L700.14,209.12 L701.58,211.18 L703.02,213.25 L704.45,215.33 L705.89,217.41 L707.33,219.51 L708.76,221.62 L710.20,223.73 L711.64,225.85 L713.07,227.98 L714.51,230.10 L715.95,232.20 L717.38,234.23 L718.82,236.17 L720.26,237.98 L721.69,239.68 L723.13,241.29 L724.57,242.84 L726.00,244.34 L727.44,245.82 L728.88,247.24 L730.31,248.62 L731.75,249.93 L733.19,251.16 L734.62,252.33 L736.06,253.42 L737.50,254.45 L738.93,255.41 L740.37,256.32 L741.81,257.16 L743.24,257.96 L744.68,258.70 L746.12,259.40 L747.55,260.05 L748.99,260.67 L750.43,261.25 L751.86,261.79 L753.30,262.31 L754.74,262.79 L756.17,263.26 L757.61,263.71 L759.05,264.13 L760.48,264.54 L761.92,264.93 L763.36,265.30 L764.79,265.65 L766.23,265.98 L767.67,266.29 L769.10,266.59 L770.54,266.86 L771.98,267.11 L773.41,267.34 L774.85,267.55 L776.29,267.74 L777.72,267.91 L779.16,268.06 L780.60,268.20 L782.03,268.32 L783.47,268.42 L784.91,268.52 L786.34,268.61 L787.78,268.69 L789.22,268.77 L790.65,268.85 L792.09,268.93 L793.53,269.02 L794.96,269.10 L796.40,269.20 M510.50,104.60 L511.90,105.11 L513.31,105.50 L514.71,105.80 L516.12,106.01 L517.52,106.16 L518.93,106.24 L520.33,106.29 L521.74,106.31 L523.14,106.31 L524.55,106.30 L525.95,106.31 L527.35,106.33 L528.76,106.36 L530.16,106.41 L531.57,106.46 L532.97,106.53 L534.38,106.61 L535.78,106.70 L537.19,106.81 L538.59,106.93 L539.99,107.07 L541.40,107.23 L542.80,107.41 L544.21,107.61 L545.61,107.83 L547.02,108.08 L548.42,108.36 L549.83,108.66 L551.23,108.99 L552.64,109.36 L554.04,109.75 L555.44,110.18 L556.85,110.64 L558.25,111.12 L559.66,111.63 L561.06,112.15 L562.47,112.68 L563.87,113.22 L565.28,113.76 L566.68,114.30 L568.09,114.84 L569.49,115.38 L570.89,115.94 L572.30,116.50 L573.70,117.07 L575.11,117.67 L576.51,118.28 L577.92,118.92 L579.32,119.59 L580.73,120.28 L582.13,121.01 L583.54,121.78 L584.94,122.57 L586.34,123.39 L587.75,124.21 L589.15,125.02 L590.56,125.84 L591.96,126.68 L593.37,127.56 L594.77,128.51 L596.18,129.51 L597.58,130.57 L598.98,131.65 L600.39,132.75 L601.79,133.88 L603.20,135.02 L604.60,136.17 L606.01,137.32 L607.41,138.48 L608.82,139.64 L610.22,140.80 L611.63,141.96 L613.03,143.11 L614.43,144.26 L615.84,145.40 L617.24,146.53 L618.65,147.65 L620.05,148.76 L621.46,149.87 L622.86,150.99 L624.27,152.11 L625.67,153.23 L627.08,154.37 L628.48,155.51 L629.88,156.66 L631.29,157.82 L632.69,158.98 L634.10,160.15 L635.50,161.33 L636.91,162.52 L638.31,163.72 L639.72,164.93 L641.12,166.14 L642.53,167.36 L643.93,168.59 L645.33,169.83 L646.74,171.07 L648.14,172.31 L649.55,173.55 L650.95,174.80 L652.36,176.04 L653.76,177.28 L655.17,178.53 L656.57,179.77 L657.97,181.01 L659.38,182.26 L660.78,183.51 L662.19,184.76 L663.59,186.02 L665.00,187.28 L666.40,188.55 L667.81,189.85 L669.21,191.17 L670.62,192.54 L672.02,193.96 L673.42,195.42 L674.83,196.90 L676.23,198.38 L677.64,199.83 L679.04,201.25 L680.45,202.65 L681.85,204.06 L683.26,205.51 L684.66,206.99 L686.07,208.52 L687.47,210.09 L688.87,211.70 L690.28,213.35 L691.68,215.02 L693.09,216.72 L694.49,218.43 L695.90,220.14 L697.30,221.84 L698.71,223.52 L700.11,225.18 L701.52,226.81 L702.92,228.39 L704.32,229.92 L705.73,231.39 L707.13,232.79 L708.54,234.13 L709.94,235.44 L711.35,236.73 L712.75,238.05 L714.16,239.41 L715.56,240.80 L716.96,242.19 L718.37,243.55 L719.77,244.88 L721.18,246.14 L722.58,247.36 L723.99,248.53 L725.39,249.64 L726.80,250.72 L728.20,251.74 L729.61,252.73 L731.01,253.67 L732.41,254.57 L733.82,255.44 L735.22,256.27 L736.63,257.07 L738.03,257.84 L739.44,258.58 L740.84,259.29 L742.25,259.97 L743.65,260.62 L745.06,261.24 L746.46,261.84 L747.86,262.40 L749.27,262.94 L750.67,263.45 L752.08,263.93 L753.48,264.39 L754.89,264.82 L756.29,265.22 L757.70,265.60 L759.10,265.95 L760.51,266.28 L761.91,266.58 L763.31,266.86 L764.72,267.12 L766.12,267.36 L767.53,267.58 L768.93,267.78 L770.34,267.96 L771.74,268.13 L773.15,268.28 L774.55,268.42 L775.95,268.55 L777.36,268.66 L778.76,268.76 L780.17,268.85 L781.57,268.94 L782.98,269.01 L784.38,269.08 L785.79,269.14 L787.19,269.20 L788.60,269.25 L790.00,269.30" fill="none" stroke="#ff4040" stroke-width="1.30" stroke-linejoin="round" clip-path="url(#c4)"/>
<path d="M755.20,150.00 L755.44,150.97 L755.68,151.94 L755.91,152.90 L756.15,153.87 L756.39,154.84 L756.63,155.81 L756.87,156.78 L757.11,157.74 L757.35,158.71 L757.60,159.68 L757.85,160.64 L758.09,161.61 L758.34,162.57 L758.58,163.54 L758.82,164.51 L759.05,165.48 L759.28,166.45 L759.50,167.42 L759.72,168.39 L759.93,169.37 L760.14,170.34 L760.34,171.32 L760.55,172.30 L760.75,173.27 L760.95,174.25 L761.15,175.23 L761.34,176.20 L761.52,177.18 L761.72,178.16 L761.91,179.14 L762.12,180.12 L762.33,181.09 L762.55,182.06 L762.78,183.03 L763.02,184.00 L763.26,184.97 L763.51,185.93 L763.75,186.90 L764.00,187.86 L764.25,188.83 L764.50,189.80 L764.75,190.76 L765.00,191.73 L765.25,192.69 L765.50,193.66 L765.76,194.62 L766.02,195.58 L766.28,196.54 L766.55,197.50 L766.82,198.46 L767.09,199.42 L767.36,200.38 L767.64,201.34 L767.93,202.29 L768.22,203.25 L768.51,204.20 L768.82,205.15 L769.13,206.10 L769.45,207.04 L769.79,207.98 L770.12,208.92 L770.45,209.86 L770.77,210.80 L771.09,211.75 L771.40,212.69 L771.71,213.64 L772.02,214.59 L772.34,215.53 L772.66,216.48 L772.98,217.42 L773.30,218.37 L773.63,219.31 L773.95,220.25 L774.28,221.19 L774.61,222.13 L774.95,223.07 L775.30,224.00 L775.66,224.93 L776.02,225.86 L776.38,226.79 L776.76,227.72 L777.13,228.64 L777.52,229.56 L777.90,230.48 L778.29,231.40 L778.68,232.32 L779.08,233.23 L779.49,234.14 L779.89,235.05 L780.28,235.97 L780.67,236.89 L781.04,237.81 L781.42,238.73 L781.81,239.65 L782.22,240.56 L782.64,241.47 L783.06,242.37 L783.50,243.26 L783.94,244.16 L784.38,245.05 L784.82,245.95 L785.26,246.84 L785.70,247.73 L786.15,248.63 L786.59,249.52 L787.04,250.41 L787.49,251.30 L787.95,252.19 L788.40,253.08 L788.85,253.97 L789.30,254.86 L789.77,255.74 L790.25,256.62 L790.76,257.47 L791.29,258.31 L791.84,259.15 L792.42,259.97 L793.02,260.77 L793.66,261.53 L794.34,262.25 L795.06,262.95 L795.83,263.62 L796.64,264.19 L797.49,264.66 L798.40,265.08 L799.35,265.45 L800.31,265.75 L801.28,265.95 L802.25,266.10 L803.24,266.24 L804.23,266.35 L805.23,266.44 L806.23,266.53 L807.23,266.60 L808.22,266.67 L809.22,266.73 L810.21,266.79 L811.21,266.84 L812.20,266.88 L813.20,266.93 L814.20,266.97 L815.19,267.01 L816.19,267.04 L817.19,267.08 L818.18,267.11 L819.18,267.14 L820.18,267.17 L821.17,267.20 L822.17,267.22 L823.17,267.25 L824.16,267.28 L825.16,267.30 L826.16,267.33 L827.15,267.36 L828.15,267.39 L829.15,267.41 L830.14,267.44 L831.14,267.47 L832.13,267.49 L833.13,267.52 L834.13,267.55 L835.12,267.57 L836.12,267.60 L837.12,267.62 L838.11,267.65 L839.11,267.68 L840.11,267.70 L841.10,267.73 L842.10,267.76 L843.10,267.78 L844.09,267.81 L845.09,267.84 L846.09,267.86 L847.08,267.89 L848.08,267.92 L849.08,267.95 L850.07,267.97 L851.07,268.00 L852.07,268.02 L853.06,268.05 L854.06,268.08 L855.06,268.10 L856.05,268.13 L857.05,268.15 L858.05,268.18 L859.04,268.20 L860.04,268.22 L861.04,268.25 L862.03,268.27 L863.03,268.30 L864.03,268.32 L865.02,268.34 L866.02,268.37 L867.02,268.39 L868.01,268.41 L869.01,268.43 L870.01,268.46 L871.00,268.48 L872.00,268.50 L872.00,269.10 L870.99,269.09 L869.97,269.08 L868.96,269.07 L867.95,269.06 L866.94,269.05 L865.92,269.04 L864.91,269.03 L863.90,269.02 L862.89,269.01 L861.87,269.00 L860.86,268.98 L859.85,268.97 L858.84,268.96 L857.82,268.94 L856.81,268.93 L855.80,268.91 L854.79,268.90 L853.77,268.88 L852.76,268.86 L851.75,268.85 L850.73,268.83 L849.72,268.81 L848.71,268.79 L847.70,268.76 L846.68,268.74 L845.67,268.72 L844.66,268.70 L843.65,268.68 L842.63,268.65 L841.62,268.63 L840.61,268.61 L839.60,268.59 L838.58,268.57 L837.57,268.55 L836.56,268.53 L835.55,268.51 L834.53,268.50 L833.52,268.48 L832.51,268.46 L831.50,268.44 L830.48,268.42 L829.47,268.40 L828.46,268.38 L827.45,268.36 L826.43,268.33 L825.42,268.31 L824.41,268.29 L823.40,268.26 L822.38,268.23 L821.37,268.20 L820.36,268.17 L819.35,268.14 L818.34,268.11 L817.32,268.08 L816.31,268.04 L815.30,268.01 L814.29,267.98 L813.27,267.94 L812.26,267.91 L811.25,267.88 L810.24,267.84 L809.23,267.80 L808.21,267.75 L807.20,267.70 L806.19,267.64 L805.18,267.56 L804.17,267.48 L803.16,267.38 L802.15,267.26 L801.15,267.12 L800.16,266.95 L799.17,266.71 L798.19,266.42 L797.23,266.09 L796.31,265.70 L795.41,265.22 L794.54,264.68 L793.72,264.10 L792.94,263.46 L792.19,262.76 L791.48,262.03 L790.80,261.29 L790.15,260.51 L789.54,259.71 L788.94,258.88 L788.37,258.04 L787.80,257.20 L787.25,256.35 L786.72,255.50 L786.19,254.63 L785.68,253.75 L785.17,252.88 L784.66,252.00 L784.15,251.13 L783.65,250.25 L783.15,249.37 L782.65,248.48 L782.15,247.60 L781.65,246.72 L781.15,245.84 L780.65,244.96 L780.15,244.08 L779.65,243.20 L779.15,242.32 L778.65,241.44 L778.15,240.56 L777.65,239.68 L777.15,238.80 L776.65,237.92 L776.14,237.04 L775.63,236.16 L775.11,235.29 L774.57,234.44 L774.03,233.58 L773.54,232.70 L773.09,231.80 L772.66,230.88 L772.25,229.95 L771.85,229.02 L771.45,228.09 L771.06,227.15 L770.65,226.22 L770.24,225.29 L769.83,224.37 L769.41,223.44 L769.00,222.52 L768.60,221.59 L768.20,220.66 L767.81,219.72 L767.43,218.79 L767.07,217.84 L766.73,216.89 L766.39,215.93 L766.06,214.98 L765.74,214.02 L765.41,213.06 L765.08,212.10 L764.74,211.14 L764.40,210.19 L764.04,209.24 L763.69,208.29 L763.34,207.34 L763.00,206.39 L762.68,205.43 L762.37,204.47 L762.06,203.50 L761.76,202.53 L761.47,201.56 L761.18,200.59 L760.89,199.62 L760.61,198.65 L760.32,197.68 L760.04,196.71 L759.76,195.73 L759.48,194.76 L759.21,193.78 L758.94,192.81 L758.68,191.83 L758.43,190.85 L758.19,189.86 L757.95,188.88 L757.72,187.89 L757.49,186.91 L757.25,185.92 L757.01,184.94 L756.75,183.96 L756.47,182.98 L756.11,182.02 L755.72,181.06 L755.36,180.09 L755.09,179.12 L755.00,178.14 L755.00,177.15 L755.00,176.16 L755.00,175.15 L755.00,174.14 L755.00,173.13 L755.00,172.11 L755.00,171.09 L755.00,170.07 L755.00,169.05 L755.00,168.03 L755.00,167.01 L755.00,165.99 L755.00,164.98 L755.00,163.96 L755.00,162.95 L755.01,161.94 L755.01,160.93 L755.02,159.91 L755.02,158.90 L755.03,157.89 L755.04,156.88 L755.05,155.86 L755.06,154.85 L755.07,153.84 L755.08,152.83 L755.09,151.81 L755.10,150.80Z" fill="#00ff00"/>
<rect x="510.50" y="46.00" width="361.00" height="223.40" fill="none" stroke="#000" stroke-width="0.6"/>
<path d="M697,269.5 H793.2" stroke="#30287d" stroke-width="1"/>
<path d="M793.2,269.5 H872.0" stroke="#701832" stroke-width="1"/>
<path d="M510.50,269.40 v-2.70 M510.50,46.00 v2.70 M530.56,269.40 v-2.70 M530.56,46.00 v2.70 M550.61,269.40 v-4.30 M550.61,46.00 v4.30 M570.67,269.40 v-2.70 M570.67,46.00 v2.70 M590.72,269.40 v-2.70 M590.72,46.00 v2.70 M610.78,269.40 v-2.70 M610.78,46.00 v2.70 M630.83,269.40 v-4.30 M630.83,46.00 v4.30 M650.89,269.40 v-2.70 M650.89,46.00 v2.70 M670.94,269.40 v-2.70 M670.94,46.00 v2.70 M691.00,269.40 v-2.70 M691.00,46.00 v2.70 M711.06,269.40 v-4.30 M711.06,46.00 v4.30 M731.11,269.40 v-2.70 M731.11,46.00 v2.70 M751.17,269.40 v-2.70 M751.17,46.00 v2.70 M771.22,269.40 v-2.70 M771.22,46.00 v2.70 M791.28,269.40 v-4.30 M791.28,46.00 v4.30 M811.33,269.40 v-2.70 M811.33,46.00 v2.70 M831.39,269.40 v-2.70 M831.39,46.00 v2.70 M851.44,269.40 v-2.70 M851.44,46.00 v2.70 M871.50,269.40 v-4.30 M871.50,46.00 v4.30 M510.50,269.40 h4.30 M871.50,269.40 h-4.30 M510.50,260.09 h2.70 M871.50,260.09 h-2.70 M510.50,250.78 h2.70 M871.50,250.78 h-2.70 M510.50,241.47 h2.70 M871.50,241.47 h-2.70 M510.50,232.17 h4.30 M871.50,232.17 h-4.30 M510.50,222.86 h2.70 M871.50,222.86 h-2.70 M510.50,213.55 h2.70 M871.50,213.55 h-2.70 M510.50,204.24 h2.70 M871.50,204.24 h-2.70 M510.50,194.93 h4.30 M871.50,194.93 h-4.30 M510.50,185.62 h2.70 M871.50,185.62 h-2.70 M510.50,176.32 h2.70 M871.50,176.32 h-2.70 M510.50,167.01 h2.70 M871.50,167.01 h-2.70 M510.50,157.70 h4.30 M871.50,157.70 h-4.30 M510.50,148.39 h2.70 M871.50,148.39 h-2.70 M510.50,139.08 h2.70 M871.50,139.08 h-2.70 M510.50,129.78 h2.70 M871.50,129.78 h-2.70 M510.50,120.47 h4.30 M871.50,120.47 h-4.30 M510.50,111.16 h2.70 M871.50,111.16 h-2.70 M510.50,101.85 h2.70 M871.50,101.85 h-2.70 M510.50,92.54 h2.70 M871.50,92.54 h-2.70 M510.50,83.23 h4.30 M871.50,83.23 h-4.30 M510.50,73.93 h2.70 M871.50,73.93 h-2.70 M510.50,64.62 h2.70 M871.50,64.62 h-2.70 M510.50,55.31 h2.70 M871.50,55.31 h-2.70 M510.50,46.00 h4.30 M871.50,46.00 h-4.30" stroke="#000" stroke-width="0.55" fill="none"/>
<text x="497.75" y="275.00" class="tk" textLength="8.75" lengthAdjust="spacingAndGlyphs">0</text>
<text x="497.75" y="237.77" class="tk" textLength="8.75" lengthAdjust="spacingAndGlyphs">2</text>
<text x="497.75" y="200.53" class="tk" textLength="8.75" lengthAdjust="spacingAndGlyphs">4</text>
<text x="497.75" y="163.30" class="tk" textLength="8.75" lengthAdjust="spacingAndGlyphs">6</text>
<text x="497.75" y="126.07" class="tk" textLength="8.75" lengthAdjust="spacingAndGlyphs">8</text>
<text x="489.00" y="88.83" class="tk" textLength="17.50" lengthAdjust="spacingAndGlyphs">10</text>
<text x="489.00" y="51.60" class="tk" textLength="17.50" lengthAdjust="spacingAndGlyphs">12</text>
<text x="541.96" y="289.40" class="tk" textLength="17.50" lengthAdjust="spacingAndGlyphs">20</text>
<text x="622.18" y="289.40" class="tk" textLength="17.50" lengthAdjust="spacingAndGlyphs">40</text>
<text x="702.41" y="289.40" class="tk" textLength="17.50" lengthAdjust="spacingAndGlyphs">60</text>
<text x="782.63" y="289.40" class="tk" textLength="17.50" lengthAdjust="spacingAndGlyphs">80</text>
<text x="858.48" y="289.40" class="tk" textLength="26.25" lengthAdjust="spacingAndGlyphs">100</text>
<text x="620.50" y="107.30" class="sl" textLength="52.0" lengthAdjust="spacingAndGlyphs">200 GeV</text>
<text x="573.60" y="235.50" class="sl" textLength="50.6" lengthAdjust="spacingAndGlyphs">120 GeV</text>
<text x="765.50" y="183.70" class="sl" textLength="52.0" lengthAdjust="spacingAndGlyphs">350 GeV</text>
<text x="582.40" y="29.90" class="tt">tan</text>
<text x="605.60" y="29.90" class="tt" textLength="10.90" lengthAdjust="spacingAndGlyphs">α</text>
<text x="617.60" y="29.90" class="tt">=</text>
<text x="628.70" y="29.90" class="tt" textLength="32.50" lengthAdjust="spacingAndGlyphs">0.45</text>
<text x="661.50" y="29.90" class="tt" textLength="6.60" lengthAdjust="spacingAndGlyphs">/</text>
<text x="668.60" y="29.90" class="tt" textLength="18.50" lengthAdjust="spacingAndGlyphs">30</text>
<text x="697.00" y="29.90" class="tt" textLength="26.90" lengthAdjust="spacingAndGlyphs">and</text>
<text x="734.20" y="29.90" class="tt">tan</text>
<text x="757.00" y="29.90" class="tt">β</text>
<text x="769.80" y="29.90" class="tt">=</text>
<text x="781.20" y="29.90" class="tt" textLength="18.80" lengthAdjust="spacingAndGlyphs">30</text>
<text x="648.60" y="312.80" class="it" textLength="14.80" lengthAdjust="spacingAndGlyphs">m</text>
<text x="663.00" y="316.50" class="it" textLength="10.60" lengthAdjust="spacingAndGlyphs" style="font-size:13.6px">D</text>
<text x="685.10" y="312.80" class="tt" textLength="47.90" lengthAdjust="spacingAndGlyphs">(GeV)</text>
<g transform="translate(478.60,226.6) rotate(-90)">
<text x="-0.30" y="0.00" class="tt" textLength="11.00" lengthAdjust="spacingAndGlyphs">Γ</text>
<text x="11.30" y="-1.00" class="pp">(</text>
<text x="18.30" y="0.00" class="it">h</text>
<path d="M29.9,-5.5 H43.0 M39.1,-9.3 Q40.6,-6.3 43.3,-5.5 Q40.6,-4.7 39.1,-1.7" fill="none" stroke="#000" stroke-width="0.95" stroke-linecap="round" stroke-linejoin="round"/>
<text x="45.60" y="0.00" class="it" textLength="25.60" lengthAdjust="spacingAndGlyphs">DD</text>
<text x="70.90" y="-1.00" class="pp">)</text>
<text x="89.20" y="0.00" class="tt" textLength="48.80" lengthAdjust="spacingAndGlyphs">(GeV)</text>
</g>
</svg>
</body></html>
